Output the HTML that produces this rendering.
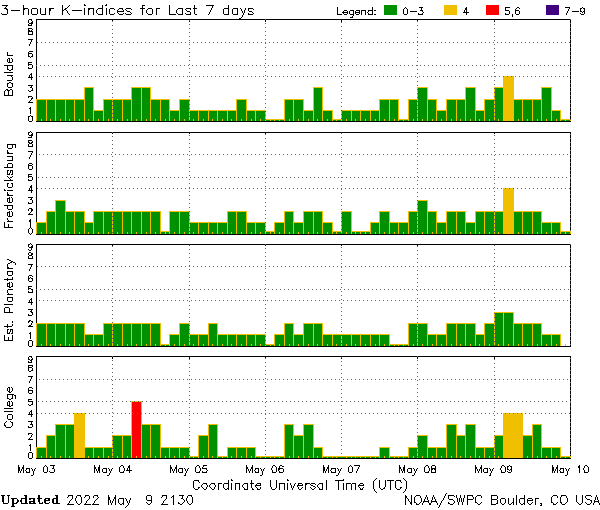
<!DOCTYPE html>
<html><head><meta charset="utf-8"><title>3-hour K-indices for Last 7 days</title>
<style>
html,body{margin:0;padding:0;background:#fff;}
svg{display:block;}
text{font-family:"Liberation Sans",sans-serif;fill:transparent;}
</style></head><body>
<svg xmlns="http://www.w3.org/2000/svg" width="600" height="510" viewBox="0 0 600 510">
<rect width="600" height="510" fill="#fff"/>
<g shape-rendering="crispEdges">
<!-- panel Boulder -->
<rect x="36" y="19" width="535" height="1" fill="#000"/>
<rect x="36" y="19" width="1" height="103" fill="#000"/>
<rect x="570" y="19" width="1" height="103" fill="#000"/>
<rect x="36" y="99" width="11" height="22" fill="#f0c000"/>
<rect x="37" y="100" width="9" height="21" fill="#009000"/>
<rect x="46" y="99" width="10" height="22" fill="#f0c000"/>
<rect x="47" y="100" width="8" height="21" fill="#009000"/>
<rect x="55" y="99" width="11" height="22" fill="#f0c000"/>
<rect x="56" y="100" width="9" height="21" fill="#009000"/>
<rect x="65" y="99" width="10" height="22" fill="#f0c000"/>
<rect x="66" y="100" width="8" height="21" fill="#009000"/>
<rect x="74" y="99" width="11" height="22" fill="#f0c000"/>
<rect x="75" y="100" width="9" height="21" fill="#009000"/>
<rect x="84" y="87" width="10" height="34" fill="#f0c000"/>
<rect x="85" y="88" width="8" height="33" fill="#009000"/>
<rect x="93" y="110" width="11" height="11" fill="#f0c000"/>
<rect x="94" y="111" width="9" height="10" fill="#009000"/>
<rect x="103" y="99" width="10" height="22" fill="#f0c000"/>
<rect x="104" y="100" width="8" height="21" fill="#009000"/>
<rect x="112" y="99" width="11" height="22" fill="#f0c000"/>
<rect x="113" y="100" width="9" height="21" fill="#009000"/>
<rect x="122" y="99" width="10" height="22" fill="#f0c000"/>
<rect x="123" y="100" width="8" height="21" fill="#009000"/>
<rect x="131" y="87" width="11" height="34" fill="#f0c000"/>
<rect x="132" y="88" width="9" height="33" fill="#009000"/>
<rect x="141" y="87" width="10" height="34" fill="#f0c000"/>
<rect x="142" y="88" width="8" height="33" fill="#009000"/>
<rect x="150" y="99" width="11" height="22" fill="#f0c000"/>
<rect x="151" y="100" width="9" height="21" fill="#009000"/>
<rect x="160" y="99" width="10" height="22" fill="#f0c000"/>
<rect x="161" y="100" width="8" height="21" fill="#009000"/>
<rect x="169" y="110" width="11" height="11" fill="#f0c000"/>
<rect x="170" y="111" width="9" height="10" fill="#009000"/>
<rect x="179" y="99" width="11" height="22" fill="#f0c000"/>
<rect x="180" y="100" width="9" height="21" fill="#009000"/>
<rect x="189" y="110" width="10" height="11" fill="#f0c000"/>
<rect x="190" y="111" width="8" height="10" fill="#009000"/>
<rect x="198" y="110" width="11" height="11" fill="#f0c000"/>
<rect x="199" y="111" width="9" height="10" fill="#009000"/>
<rect x="208" y="110" width="10" height="11" fill="#f0c000"/>
<rect x="209" y="111" width="8" height="10" fill="#009000"/>
<rect x="217" y="110" width="11" height="11" fill="#f0c000"/>
<rect x="218" y="111" width="9" height="10" fill="#009000"/>
<rect x="227" y="110" width="10" height="11" fill="#f0c000"/>
<rect x="228" y="111" width="8" height="10" fill="#009000"/>
<rect x="236" y="99" width="11" height="22" fill="#f0c000"/>
<rect x="237" y="100" width="9" height="21" fill="#009000"/>
<rect x="246" y="110" width="10" height="11" fill="#f0c000"/>
<rect x="247" y="111" width="8" height="10" fill="#009000"/>
<rect x="255" y="110" width="11" height="11" fill="#f0c000"/>
<rect x="256" y="111" width="9" height="10" fill="#009000"/>
<rect x="265" y="119" width="10" height="2" fill="#f0c000"/>
<rect x="266" y="120" width="8" height="1" fill="#009000"/>
<rect x="274" y="119" width="11" height="2" fill="#f0c000"/>
<rect x="275" y="120" width="9" height="1" fill="#009000"/>
<rect x="284" y="99" width="10" height="22" fill="#f0c000"/>
<rect x="285" y="100" width="8" height="21" fill="#009000"/>
<rect x="293" y="99" width="11" height="22" fill="#f0c000"/>
<rect x="294" y="100" width="9" height="21" fill="#009000"/>
<rect x="303" y="110" width="11" height="11" fill="#f0c000"/>
<rect x="304" y="111" width="9" height="10" fill="#009000"/>
<rect x="313" y="87" width="10" height="34" fill="#f0c000"/>
<rect x="314" y="88" width="8" height="33" fill="#009000"/>
<rect x="322" y="110" width="11" height="11" fill="#f0c000"/>
<rect x="323" y="111" width="9" height="10" fill="#009000"/>
<rect x="332" y="119" width="10" height="2" fill="#f0c000"/>
<rect x="333" y="120" width="8" height="1" fill="#009000"/>
<rect x="341" y="110" width="11" height="11" fill="#f0c000"/>
<rect x="342" y="111" width="9" height="10" fill="#009000"/>
<rect x="351" y="110" width="10" height="11" fill="#f0c000"/>
<rect x="352" y="111" width="8" height="10" fill="#009000"/>
<rect x="360" y="110" width="11" height="11" fill="#f0c000"/>
<rect x="361" y="111" width="9" height="10" fill="#009000"/>
<rect x="370" y="110" width="10" height="11" fill="#f0c000"/>
<rect x="371" y="111" width="8" height="10" fill="#009000"/>
<rect x="379" y="99" width="11" height="22" fill="#f0c000"/>
<rect x="380" y="100" width="9" height="21" fill="#009000"/>
<rect x="389" y="99" width="10" height="22" fill="#f0c000"/>
<rect x="390" y="100" width="8" height="21" fill="#009000"/>
<rect x="398" y="119" width="11" height="2" fill="#f0c000"/>
<rect x="399" y="120" width="9" height="1" fill="#009000"/>
<rect x="408" y="99" width="10" height="22" fill="#f0c000"/>
<rect x="409" y="100" width="8" height="21" fill="#009000"/>
<rect x="417" y="87" width="11" height="34" fill="#f0c000"/>
<rect x="418" y="88" width="9" height="33" fill="#009000"/>
<rect x="427" y="99" width="10" height="22" fill="#f0c000"/>
<rect x="428" y="100" width="8" height="21" fill="#009000"/>
<rect x="436" y="110" width="11" height="11" fill="#f0c000"/>
<rect x="437" y="111" width="9" height="10" fill="#009000"/>
<rect x="446" y="99" width="11" height="22" fill="#f0c000"/>
<rect x="447" y="100" width="9" height="21" fill="#009000"/>
<rect x="456" y="99" width="10" height="22" fill="#f0c000"/>
<rect x="457" y="100" width="8" height="21" fill="#009000"/>
<rect x="465" y="87" width="11" height="34" fill="#f0c000"/>
<rect x="466" y="88" width="9" height="33" fill="#009000"/>
<rect x="475" y="110" width="10" height="11" fill="#f0c000"/>
<rect x="476" y="111" width="8" height="10" fill="#009000"/>
<rect x="484" y="99" width="11" height="22" fill="#f0c000"/>
<rect x="485" y="100" width="9" height="21" fill="#009000"/>
<rect x="494" y="87" width="10" height="34" fill="#f0c000"/>
<rect x="495" y="88" width="8" height="33" fill="#009000"/>
<rect x="503" y="76" width="11" height="45" fill="#f0c000"/>
<rect x="504" y="77" width="9" height="44" fill="#f0c000"/>
<rect x="513" y="99" width="10" height="22" fill="#f0c000"/>
<rect x="514" y="100" width="8" height="21" fill="#009000"/>
<rect x="522" y="99" width="11" height="22" fill="#f0c000"/>
<rect x="523" y="100" width="9" height="21" fill="#009000"/>
<rect x="532" y="99" width="10" height="22" fill="#f0c000"/>
<rect x="533" y="100" width="8" height="21" fill="#009000"/>
<rect x="541" y="87" width="11" height="34" fill="#f0c000"/>
<rect x="542" y="88" width="9" height="33" fill="#009000"/>
<rect x="551" y="110" width="10" height="11" fill="#f0c000"/>
<rect x="552" y="111" width="8" height="10" fill="#009000"/>
<rect x="560" y="119" width="11" height="2" fill="#f0c000"/>
<rect x="561" y="120" width="9" height="1" fill="#009000"/>
<path d="M41 119h1v2h-1zM50 119h1v2h-1zM60 119h1v2h-1zM69 119h1v2h-1zM79 119h1v2h-1zM88 119h1v2h-1zM98 119h1v2h-1zM108 119h1v2h-1zM117 119h1v2h-1zM127 119h1v2h-1zM136 119h1v2h-1zM146 119h1v2h-1zM155 119h1v2h-1zM165 119h1v2h-1zM174 119h1v2h-1zM184 119h1v2h-1zM193 119h1v2h-1zM203 119h1v2h-1zM212 119h1v2h-1zM222 119h1v2h-1zM231 119h1v2h-1zM241 119h1v2h-1zM251 119h1v2h-1zM260 119h1v2h-1zM270 119h1v2h-1zM279 119h1v2h-1zM289 119h1v2h-1zM298 119h1v2h-1zM308 119h1v2h-1zM317 119h1v2h-1zM327 119h1v2h-1zM336 119h1v2h-1zM346 119h1v2h-1zM355 119h1v2h-1zM365 119h1v2h-1zM375 119h1v2h-1zM384 119h1v2h-1zM394 119h1v2h-1zM403 119h1v2h-1zM413 119h1v2h-1zM422 119h1v2h-1zM432 119h1v2h-1zM441 119h1v2h-1zM451 119h1v2h-1zM460 119h1v2h-1zM470 119h1v2h-1zM479 119h1v2h-1zM489 119h1v2h-1zM498 119h1v2h-1zM508 119h1v2h-1zM518 119h1v2h-1zM527 119h1v2h-1zM537 119h1v2h-1zM546 119h1v2h-1zM556 119h1v2h-1zM565 119h1v2h-1z" fill="#f0c000"/>
<rect x="36" y="121" width="535" height="1" fill="#000"/>
<path d="M112 20h1v2h-1zM189 20h1v2h-1zM265 20h1v2h-1zM341 20h1v2h-1zM417 20h1v2h-1zM494 20h1v2h-1z" fill="#000"/>
<path d="M37 42h1v1h-1zM41 42h1v1h-1zM45 42h1v1h-1zM49 42h1v1h-1zM53 42h1v1h-1zM57 42h1v1h-1zM61 42h1v1h-1zM65 42h1v1h-1zM69 42h1v1h-1zM73 42h1v1h-1zM77 42h1v1h-1zM81 42h1v1h-1zM85 42h1v1h-1zM89 42h1v1h-1zM93 42h1v1h-1zM97 42h1v1h-1zM101 42h1v1h-1zM105 42h1v1h-1zM109 42h1v1h-1zM113 42h1v1h-1zM117 42h1v1h-1zM121 42h1v1h-1zM125 42h1v1h-1zM129 42h1v1h-1zM133 42h1v1h-1zM137 42h1v1h-1zM141 42h1v1h-1zM145 42h1v1h-1zM149 42h1v1h-1zM153 42h1v1h-1zM157 42h1v1h-1zM161 42h1v1h-1zM165 42h1v1h-1zM169 42h1v1h-1zM173 42h1v1h-1zM177 42h1v1h-1zM181 42h1v1h-1zM185 42h1v1h-1zM189 42h1v1h-1zM193 42h1v1h-1zM197 42h1v1h-1zM201 42h1v1h-1zM205 42h1v1h-1zM209 42h1v1h-1zM213 42h1v1h-1zM217 42h1v1h-1zM221 42h1v1h-1zM225 42h1v1h-1zM229 42h1v1h-1zM233 42h1v1h-1zM237 42h1v1h-1zM241 42h1v1h-1zM245 42h1v1h-1zM249 42h1v1h-1zM253 42h1v1h-1zM257 42h1v1h-1zM261 42h1v1h-1zM265 42h1v1h-1zM269 42h1v1h-1zM273 42h1v1h-1zM277 42h1v1h-1zM281 42h1v1h-1zM285 42h1v1h-1zM289 42h1v1h-1zM293 42h1v1h-1zM297 42h1v1h-1zM301 42h1v1h-1zM305 42h1v1h-1zM309 42h1v1h-1zM313 42h1v1h-1zM317 42h1v1h-1zM321 42h1v1h-1zM325 42h1v1h-1zM329 42h1v1h-1zM333 42h1v1h-1zM337 42h1v1h-1zM341 42h1v1h-1zM345 42h1v1h-1zM349 42h1v1h-1zM353 42h1v1h-1zM357 42h1v1h-1zM361 42h1v1h-1zM365 42h1v1h-1zM369 42h1v1h-1zM373 42h1v1h-1zM377 42h1v1h-1zM381 42h1v1h-1zM385 42h1v1h-1zM389 42h1v1h-1zM393 42h1v1h-1zM397 42h1v1h-1zM401 42h1v1h-1zM405 42h1v1h-1zM409 42h1v1h-1zM413 42h1v1h-1zM417 42h1v1h-1zM421 42h1v1h-1zM425 42h1v1h-1zM429 42h1v1h-1zM433 42h1v1h-1zM437 42h1v1h-1zM441 42h1v1h-1zM445 42h1v1h-1zM449 42h1v1h-1zM453 42h1v1h-1zM457 42h1v1h-1zM461 42h1v1h-1zM465 42h1v1h-1zM469 42h1v1h-1zM473 42h1v1h-1zM477 42h1v1h-1zM481 42h1v1h-1zM485 42h1v1h-1zM489 42h1v1h-1zM493 42h1v1h-1zM497 42h1v1h-1zM501 42h1v1h-1zM505 42h1v1h-1zM509 42h1v1h-1zM513 42h1v1h-1zM517 42h1v1h-1zM521 42h1v1h-1zM525 42h1v1h-1zM529 42h1v1h-1zM533 42h1v1h-1zM537 42h1v1h-1zM541 42h1v1h-1zM545 42h1v1h-1zM549 42h1v1h-1zM553 42h1v1h-1zM557 42h1v1h-1zM561 42h1v1h-1zM565 42h1v1h-1zM569 42h1v1h-1zM36 65h1v1h-1zM40 65h1v1h-1zM44 65h1v1h-1zM48 65h1v1h-1zM52 65h1v1h-1zM56 65h1v1h-1zM60 65h1v1h-1zM64 65h1v1h-1zM68 65h1v1h-1zM72 65h1v1h-1zM76 65h1v1h-1zM80 65h1v1h-1zM84 65h1v1h-1zM88 65h1v1h-1zM92 65h1v1h-1zM96 65h1v1h-1zM100 65h1v1h-1zM104 65h1v1h-1zM108 65h1v1h-1zM112 65h1v1h-1zM116 65h1v1h-1zM120 65h1v1h-1zM124 65h1v1h-1zM128 65h1v1h-1zM132 65h1v1h-1zM136 65h1v1h-1zM140 65h1v1h-1zM144 65h1v1h-1zM148 65h1v1h-1zM152 65h1v1h-1zM156 65h1v1h-1zM160 65h1v1h-1zM164 65h1v1h-1zM168 65h1v1h-1zM172 65h1v1h-1zM176 65h1v1h-1zM180 65h1v1h-1zM184 65h1v1h-1zM188 65h1v1h-1zM192 65h1v1h-1zM196 65h1v1h-1zM200 65h1v1h-1zM204 65h1v1h-1zM208 65h1v1h-1zM212 65h1v1h-1zM216 65h1v1h-1zM220 65h1v1h-1zM224 65h1v1h-1zM228 65h1v1h-1zM232 65h1v1h-1zM236 65h1v1h-1zM240 65h1v1h-1zM244 65h1v1h-1zM248 65h1v1h-1zM252 65h1v1h-1zM256 65h1v1h-1zM260 65h1v1h-1zM264 65h1v1h-1zM268 65h1v1h-1zM272 65h1v1h-1zM276 65h1v1h-1zM280 65h1v1h-1zM284 65h1v1h-1zM288 65h1v1h-1zM292 65h1v1h-1zM296 65h1v1h-1zM300 65h1v1h-1zM304 65h1v1h-1zM308 65h1v1h-1zM312 65h1v1h-1zM316 65h1v1h-1zM320 65h1v1h-1zM324 65h1v1h-1zM328 65h1v1h-1zM332 65h1v1h-1zM336 65h1v1h-1zM340 65h1v1h-1zM344 65h1v1h-1zM348 65h1v1h-1zM352 65h1v1h-1zM356 65h1v1h-1zM360 65h1v1h-1zM364 65h1v1h-1zM368 65h1v1h-1zM372 65h1v1h-1zM376 65h1v1h-1zM380 65h1v1h-1zM384 65h1v1h-1zM388 65h1v1h-1zM392 65h1v1h-1zM396 65h1v1h-1zM400 65h1v1h-1zM404 65h1v1h-1zM408 65h1v1h-1zM412 65h1v1h-1zM416 65h1v1h-1zM420 65h1v1h-1zM424 65h1v1h-1zM428 65h1v1h-1zM432 65h1v1h-1zM436 65h1v1h-1zM440 65h1v1h-1zM444 65h1v1h-1zM448 65h1v1h-1zM452 65h1v1h-1zM456 65h1v1h-1zM460 65h1v1h-1zM464 65h1v1h-1zM468 65h1v1h-1zM472 65h1v1h-1zM476 65h1v1h-1zM480 65h1v1h-1zM484 65h1v1h-1zM488 65h1v1h-1zM492 65h1v1h-1zM496 65h1v1h-1zM500 65h1v1h-1zM504 65h1v1h-1zM508 65h1v1h-1zM512 65h1v1h-1zM516 65h1v1h-1zM520 65h1v1h-1zM524 65h1v1h-1zM528 65h1v1h-1zM532 65h1v1h-1zM536 65h1v1h-1zM540 65h1v1h-1zM544 65h1v1h-1zM548 65h1v1h-1zM552 65h1v1h-1zM556 65h1v1h-1zM560 65h1v1h-1zM564 65h1v1h-1zM568 65h1v1h-1zM39 76h1v1h-1zM43 76h1v1h-1zM47 76h1v1h-1zM51 76h1v1h-1zM55 76h1v1h-1zM59 76h1v1h-1zM63 76h1v1h-1zM67 76h1v1h-1zM71 76h1v1h-1zM75 76h1v1h-1zM79 76h1v1h-1zM83 76h1v1h-1zM87 76h1v1h-1zM91 76h1v1h-1zM95 76h1v1h-1zM99 76h1v1h-1zM103 76h1v1h-1zM107 76h1v1h-1zM111 76h1v1h-1zM115 76h1v1h-1zM119 76h1v1h-1zM123 76h1v1h-1zM127 76h1v1h-1zM131 76h1v1h-1zM135 76h1v1h-1zM139 76h1v1h-1zM143 76h1v1h-1zM147 76h1v1h-1zM151 76h1v1h-1zM155 76h1v1h-1zM159 76h1v1h-1zM163 76h1v1h-1zM167 76h1v1h-1zM171 76h1v1h-1zM175 76h1v1h-1zM179 76h1v1h-1zM183 76h1v1h-1zM187 76h1v1h-1zM191 76h1v1h-1zM195 76h1v1h-1zM199 76h1v1h-1zM203 76h1v1h-1zM207 76h1v1h-1zM211 76h1v1h-1zM215 76h1v1h-1zM219 76h1v1h-1zM223 76h1v1h-1zM227 76h1v1h-1zM231 76h1v1h-1zM235 76h1v1h-1zM239 76h1v1h-1zM243 76h1v1h-1zM247 76h1v1h-1zM251 76h1v1h-1zM255 76h1v1h-1zM259 76h1v1h-1zM263 76h1v1h-1zM267 76h1v1h-1zM271 76h1v1h-1zM275 76h1v1h-1zM279 76h1v1h-1zM283 76h1v1h-1zM287 76h1v1h-1zM291 76h1v1h-1zM295 76h1v1h-1zM299 76h1v1h-1zM303 76h1v1h-1zM307 76h1v1h-1zM311 76h1v1h-1zM315 76h1v1h-1zM319 76h1v1h-1zM323 76h1v1h-1zM327 76h1v1h-1zM331 76h1v1h-1zM335 76h1v1h-1zM339 76h1v1h-1zM343 76h1v1h-1zM347 76h1v1h-1zM351 76h1v1h-1zM355 76h1v1h-1zM359 76h1v1h-1zM363 76h1v1h-1zM367 76h1v1h-1zM371 76h1v1h-1zM375 76h1v1h-1zM379 76h1v1h-1zM383 76h1v1h-1zM387 76h1v1h-1zM391 76h1v1h-1zM395 76h1v1h-1zM399 76h1v1h-1zM403 76h1v1h-1zM407 76h1v1h-1zM411 76h1v1h-1zM415 76h1v1h-1zM419 76h1v1h-1zM423 76h1v1h-1zM427 76h1v1h-1zM431 76h1v1h-1zM435 76h1v1h-1zM439 76h1v1h-1zM443 76h1v1h-1zM447 76h1v1h-1zM451 76h1v1h-1zM455 76h1v1h-1zM459 76h1v1h-1zM463 76h1v1h-1zM467 76h1v1h-1zM471 76h1v1h-1zM475 76h1v1h-1zM479 76h1v1h-1zM483 76h1v1h-1zM487 76h1v1h-1zM491 76h1v1h-1zM495 76h1v1h-1zM499 76h1v1h-1zM503 76h1v1h-1zM507 76h1v1h-1zM511 76h1v1h-1zM515 76h1v1h-1zM519 76h1v1h-1zM523 76h1v1h-1zM527 76h1v1h-1zM531 76h1v1h-1zM535 76h1v1h-1zM539 76h1v1h-1zM543 76h1v1h-1zM547 76h1v1h-1zM551 76h1v1h-1zM555 76h1v1h-1zM559 76h1v1h-1zM563 76h1v1h-1zM567 76h1v1h-1zM112 21h1v1h-1zM112 25h1v1h-1zM112 29h1v1h-1zM112 33h1v1h-1zM112 37h1v1h-1zM112 41h1v1h-1zM112 45h1v1h-1zM112 49h1v1h-1zM112 53h1v1h-1zM112 57h1v1h-1zM112 61h1v1h-1zM112 65h1v1h-1zM112 69h1v1h-1zM112 73h1v1h-1zM112 77h1v1h-1zM112 81h1v1h-1zM112 85h1v1h-1zM112 89h1v1h-1zM112 93h1v1h-1zM112 97h1v1h-1zM112 101h1v1h-1zM112 105h1v1h-1zM112 109h1v1h-1zM112 113h1v1h-1zM112 117h1v1h-1zM189 20h1v1h-1zM189 24h1v1h-1zM189 28h1v1h-1zM189 32h1v1h-1zM189 36h1v1h-1zM189 40h1v1h-1zM189 44h1v1h-1zM189 48h1v1h-1zM189 52h1v1h-1zM189 56h1v1h-1zM189 60h1v1h-1zM189 64h1v1h-1zM189 68h1v1h-1zM189 72h1v1h-1zM189 76h1v1h-1zM189 80h1v1h-1zM189 84h1v1h-1zM189 88h1v1h-1zM189 92h1v1h-1zM189 96h1v1h-1zM189 100h1v1h-1zM189 104h1v1h-1zM189 108h1v1h-1zM189 112h1v1h-1zM189 116h1v1h-1zM189 120h1v1h-1zM265 19h1v1h-1zM265 23h1v1h-1zM265 27h1v1h-1zM265 31h1v1h-1zM265 35h1v1h-1zM265 39h1v1h-1zM265 43h1v1h-1zM265 47h1v1h-1zM265 51h1v1h-1zM265 55h1v1h-1zM265 59h1v1h-1zM265 63h1v1h-1zM265 67h1v1h-1zM265 71h1v1h-1zM265 75h1v1h-1zM265 79h1v1h-1zM265 83h1v1h-1zM265 87h1v1h-1zM265 91h1v1h-1zM265 95h1v1h-1zM265 99h1v1h-1zM265 103h1v1h-1zM265 107h1v1h-1zM265 111h1v1h-1zM265 115h1v1h-1zM265 119h1v1h-1zM341 22h1v1h-1zM341 26h1v1h-1zM341 30h1v1h-1zM341 34h1v1h-1zM341 38h1v1h-1zM341 42h1v1h-1zM341 46h1v1h-1zM341 50h1v1h-1zM341 54h1v1h-1zM341 58h1v1h-1zM341 62h1v1h-1zM341 66h1v1h-1zM341 70h1v1h-1zM341 74h1v1h-1zM341 78h1v1h-1zM341 82h1v1h-1zM341 86h1v1h-1zM341 90h1v1h-1zM341 94h1v1h-1zM341 98h1v1h-1zM341 102h1v1h-1zM341 106h1v1h-1zM341 110h1v1h-1zM341 114h1v1h-1zM341 118h1v1h-1zM417 21h1v1h-1zM417 25h1v1h-1zM417 29h1v1h-1zM417 33h1v1h-1zM417 37h1v1h-1zM417 41h1v1h-1zM417 45h1v1h-1zM417 49h1v1h-1zM417 53h1v1h-1zM417 57h1v1h-1zM417 61h1v1h-1zM417 65h1v1h-1zM417 69h1v1h-1zM417 73h1v1h-1zM417 77h1v1h-1zM417 81h1v1h-1zM417 85h1v1h-1zM417 89h1v1h-1zM417 93h1v1h-1zM417 97h1v1h-1zM417 101h1v1h-1zM417 105h1v1h-1zM417 109h1v1h-1zM417 113h1v1h-1zM417 117h1v1h-1zM494 20h1v1h-1zM494 24h1v1h-1zM494 28h1v1h-1zM494 32h1v1h-1zM494 36h1v1h-1zM494 40h1v1h-1zM494 44h1v1h-1zM494 48h1v1h-1zM494 52h1v1h-1zM494 56h1v1h-1zM494 60h1v1h-1zM494 64h1v1h-1zM494 68h1v1h-1zM494 72h1v1h-1zM494 76h1v1h-1zM494 80h1v1h-1zM494 84h1v1h-1zM494 88h1v1h-1zM494 92h1v1h-1zM494 96h1v1h-1zM494 100h1v1h-1zM494 104h1v1h-1zM494 108h1v1h-1zM494 112h1v1h-1zM494 116h1v1h-1zM494 120h1v1h-1zM570 19h1v1h-1zM570 23h1v1h-1zM570 27h1v1h-1zM570 31h1v1h-1zM570 35h1v1h-1zM570 39h1v1h-1zM570 43h1v1h-1zM570 47h1v1h-1zM570 51h1v1h-1zM570 55h1v1h-1zM570 59h1v1h-1zM570 63h1v1h-1zM570 67h1v1h-1zM570 71h1v1h-1zM570 75h1v1h-1zM570 79h1v1h-1zM570 83h1v1h-1zM570 87h1v1h-1zM570 91h1v1h-1zM570 95h1v1h-1zM570 99h1v1h-1zM570 103h1v1h-1zM570 107h1v1h-1zM570 111h1v1h-1zM570 115h1v1h-1zM570 119h1v1h-1z" fill="#646464"/>
<!-- panel Fredericksburg -->
<rect x="36" y="132" width="535" height="1" fill="#000"/>
<rect x="36" y="132" width="1" height="103" fill="#000"/>
<rect x="570" y="132" width="1" height="103" fill="#000"/>
<rect x="36" y="222" width="11" height="12" fill="#f0c000"/>
<rect x="37" y="223" width="9" height="11" fill="#009000"/>
<rect x="46" y="211" width="10" height="23" fill="#f0c000"/>
<rect x="47" y="212" width="8" height="22" fill="#009000"/>
<rect x="55" y="200" width="11" height="34" fill="#f0c000"/>
<rect x="56" y="201" width="9" height="33" fill="#009000"/>
<rect x="65" y="211" width="10" height="23" fill="#f0c000"/>
<rect x="66" y="212" width="8" height="22" fill="#009000"/>
<rect x="74" y="211" width="11" height="23" fill="#f0c000"/>
<rect x="75" y="212" width="9" height="22" fill="#009000"/>
<rect x="84" y="222" width="10" height="12" fill="#f0c000"/>
<rect x="85" y="223" width="8" height="11" fill="#009000"/>
<rect x="93" y="211" width="11" height="23" fill="#f0c000"/>
<rect x="94" y="212" width="9" height="22" fill="#009000"/>
<rect x="103" y="211" width="10" height="23" fill="#f0c000"/>
<rect x="104" y="212" width="8" height="22" fill="#009000"/>
<rect x="112" y="211" width="11" height="23" fill="#f0c000"/>
<rect x="113" y="212" width="9" height="22" fill="#009000"/>
<rect x="122" y="211" width="10" height="23" fill="#f0c000"/>
<rect x="123" y="212" width="8" height="22" fill="#009000"/>
<rect x="131" y="211" width="11" height="23" fill="#f0c000"/>
<rect x="132" y="212" width="9" height="22" fill="#009000"/>
<rect x="141" y="211" width="10" height="23" fill="#f0c000"/>
<rect x="142" y="212" width="8" height="22" fill="#009000"/>
<rect x="150" y="211" width="11" height="23" fill="#f0c000"/>
<rect x="151" y="212" width="9" height="22" fill="#009000"/>
<rect x="160" y="231" width="10" height="3" fill="#f0c000"/>
<rect x="161" y="232" width="8" height="2" fill="#009000"/>
<rect x="169" y="211" width="11" height="23" fill="#f0c000"/>
<rect x="170" y="212" width="9" height="22" fill="#009000"/>
<rect x="179" y="211" width="11" height="23" fill="#f0c000"/>
<rect x="180" y="212" width="9" height="22" fill="#009000"/>
<rect x="189" y="222" width="10" height="12" fill="#f0c000"/>
<rect x="190" y="223" width="8" height="11" fill="#009000"/>
<rect x="198" y="222" width="11" height="12" fill="#f0c000"/>
<rect x="199" y="223" width="9" height="11" fill="#009000"/>
<rect x="208" y="222" width="10" height="12" fill="#f0c000"/>
<rect x="209" y="223" width="8" height="11" fill="#009000"/>
<rect x="217" y="222" width="11" height="12" fill="#f0c000"/>
<rect x="218" y="223" width="9" height="11" fill="#009000"/>
<rect x="227" y="211" width="10" height="23" fill="#f0c000"/>
<rect x="228" y="212" width="8" height="22" fill="#009000"/>
<rect x="236" y="211" width="11" height="23" fill="#f0c000"/>
<rect x="237" y="212" width="9" height="22" fill="#009000"/>
<rect x="246" y="222" width="10" height="12" fill="#f0c000"/>
<rect x="247" y="223" width="8" height="11" fill="#009000"/>
<rect x="255" y="222" width="11" height="12" fill="#f0c000"/>
<rect x="256" y="223" width="9" height="11" fill="#009000"/>
<rect x="265" y="231" width="10" height="3" fill="#f0c000"/>
<rect x="266" y="232" width="8" height="2" fill="#009000"/>
<rect x="274" y="222" width="11" height="12" fill="#f0c000"/>
<rect x="275" y="223" width="9" height="11" fill="#009000"/>
<rect x="284" y="211" width="10" height="23" fill="#f0c000"/>
<rect x="285" y="212" width="8" height="22" fill="#009000"/>
<rect x="293" y="222" width="11" height="12" fill="#f0c000"/>
<rect x="294" y="223" width="9" height="11" fill="#009000"/>
<rect x="303" y="211" width="11" height="23" fill="#f0c000"/>
<rect x="304" y="212" width="9" height="22" fill="#009000"/>
<rect x="313" y="211" width="10" height="23" fill="#f0c000"/>
<rect x="314" y="212" width="8" height="22" fill="#009000"/>
<rect x="322" y="222" width="11" height="12" fill="#f0c000"/>
<rect x="323" y="223" width="9" height="11" fill="#009000"/>
<rect x="332" y="231" width="10" height="3" fill="#f0c000"/>
<rect x="333" y="232" width="8" height="2" fill="#009000"/>
<rect x="341" y="211" width="11" height="23" fill="#f0c000"/>
<rect x="342" y="212" width="9" height="22" fill="#009000"/>
<rect x="351" y="231" width="10" height="3" fill="#f0c000"/>
<rect x="352" y="232" width="8" height="2" fill="#009000"/>
<rect x="360" y="231" width="11" height="3" fill="#f0c000"/>
<rect x="361" y="232" width="9" height="2" fill="#009000"/>
<rect x="370" y="222" width="10" height="12" fill="#f0c000"/>
<rect x="371" y="223" width="8" height="11" fill="#009000"/>
<rect x="379" y="211" width="11" height="23" fill="#f0c000"/>
<rect x="380" y="212" width="9" height="22" fill="#009000"/>
<rect x="389" y="222" width="10" height="12" fill="#f0c000"/>
<rect x="390" y="223" width="8" height="11" fill="#009000"/>
<rect x="398" y="222" width="11" height="12" fill="#f0c000"/>
<rect x="399" y="223" width="9" height="11" fill="#009000"/>
<rect x="408" y="211" width="10" height="23" fill="#f0c000"/>
<rect x="409" y="212" width="8" height="22" fill="#009000"/>
<rect x="417" y="200" width="11" height="34" fill="#f0c000"/>
<rect x="418" y="201" width="9" height="33" fill="#009000"/>
<rect x="427" y="211" width="10" height="23" fill="#f0c000"/>
<rect x="428" y="212" width="8" height="22" fill="#009000"/>
<rect x="436" y="222" width="11" height="12" fill="#f0c000"/>
<rect x="437" y="223" width="9" height="11" fill="#009000"/>
<rect x="446" y="211" width="11" height="23" fill="#f0c000"/>
<rect x="447" y="212" width="9" height="22" fill="#009000"/>
<rect x="456" y="211" width="10" height="23" fill="#f0c000"/>
<rect x="457" y="212" width="8" height="22" fill="#009000"/>
<rect x="465" y="222" width="11" height="12" fill="#f0c000"/>
<rect x="466" y="223" width="9" height="11" fill="#009000"/>
<rect x="475" y="211" width="10" height="23" fill="#f0c000"/>
<rect x="476" y="212" width="8" height="22" fill="#009000"/>
<rect x="484" y="211" width="11" height="23" fill="#f0c000"/>
<rect x="485" y="212" width="9" height="22" fill="#009000"/>
<rect x="494" y="211" width="10" height="23" fill="#f0c000"/>
<rect x="495" y="212" width="8" height="22" fill="#009000"/>
<rect x="503" y="188" width="11" height="46" fill="#f0c000"/>
<rect x="504" y="189" width="9" height="45" fill="#f0c000"/>
<rect x="513" y="211" width="10" height="23" fill="#f0c000"/>
<rect x="514" y="212" width="8" height="22" fill="#009000"/>
<rect x="522" y="211" width="11" height="23" fill="#f0c000"/>
<rect x="523" y="212" width="9" height="22" fill="#009000"/>
<rect x="532" y="211" width="10" height="23" fill="#f0c000"/>
<rect x="533" y="212" width="8" height="22" fill="#009000"/>
<rect x="541" y="222" width="11" height="12" fill="#f0c000"/>
<rect x="542" y="223" width="9" height="11" fill="#009000"/>
<rect x="551" y="222" width="10" height="12" fill="#f0c000"/>
<rect x="552" y="223" width="8" height="11" fill="#009000"/>
<rect x="560" y="231" width="11" height="3" fill="#f0c000"/>
<rect x="561" y="232" width="9" height="2" fill="#009000"/>
<path d="M41 232h1v2h-1zM50 232h1v2h-1zM60 232h1v2h-1zM69 232h1v2h-1zM79 232h1v2h-1zM88 232h1v2h-1zM98 232h1v2h-1zM108 232h1v2h-1zM117 232h1v2h-1zM127 232h1v2h-1zM136 232h1v2h-1zM146 232h1v2h-1zM155 232h1v2h-1zM165 232h1v2h-1zM174 232h1v2h-1zM184 232h1v2h-1zM193 232h1v2h-1zM203 232h1v2h-1zM212 232h1v2h-1zM222 232h1v2h-1zM231 232h1v2h-1zM241 232h1v2h-1zM251 232h1v2h-1zM260 232h1v2h-1zM270 232h1v2h-1zM279 232h1v2h-1zM289 232h1v2h-1zM298 232h1v2h-1zM308 232h1v2h-1zM317 232h1v2h-1zM327 232h1v2h-1zM336 232h1v2h-1zM346 232h1v2h-1zM355 232h1v2h-1zM365 232h1v2h-1zM375 232h1v2h-1zM384 232h1v2h-1zM394 232h1v2h-1zM403 232h1v2h-1zM413 232h1v2h-1zM422 232h1v2h-1zM432 232h1v2h-1zM441 232h1v2h-1zM451 232h1v2h-1zM460 232h1v2h-1zM470 232h1v2h-1zM479 232h1v2h-1zM489 232h1v2h-1zM498 232h1v2h-1zM508 232h1v2h-1zM518 232h1v2h-1zM527 232h1v2h-1zM537 232h1v2h-1zM546 232h1v2h-1zM556 232h1v2h-1zM565 232h1v2h-1z" fill="#f0c000"/>
<rect x="36" y="234" width="535" height="1" fill="#000"/>
<path d="M112 133h1v1h-1zM189 133h1v1h-1zM265 133h1v1h-1zM341 133h1v1h-1zM417 133h1v1h-1zM494 133h1v1h-1z" fill="#000"/>
<path d="M39 154h1v1h-1zM43 154h1v1h-1zM47 154h1v1h-1zM51 154h1v1h-1zM55 154h1v1h-1zM59 154h1v1h-1zM63 154h1v1h-1zM67 154h1v1h-1zM71 154h1v1h-1zM75 154h1v1h-1zM79 154h1v1h-1zM83 154h1v1h-1zM87 154h1v1h-1zM91 154h1v1h-1zM95 154h1v1h-1zM99 154h1v1h-1zM103 154h1v1h-1zM107 154h1v1h-1zM111 154h1v1h-1zM115 154h1v1h-1zM119 154h1v1h-1zM123 154h1v1h-1zM127 154h1v1h-1zM131 154h1v1h-1zM135 154h1v1h-1zM139 154h1v1h-1zM143 154h1v1h-1zM147 154h1v1h-1zM151 154h1v1h-1zM155 154h1v1h-1zM159 154h1v1h-1zM163 154h1v1h-1zM167 154h1v1h-1zM171 154h1v1h-1zM175 154h1v1h-1zM179 154h1v1h-1zM183 154h1v1h-1zM187 154h1v1h-1zM191 154h1v1h-1zM195 154h1v1h-1zM199 154h1v1h-1zM203 154h1v1h-1zM207 154h1v1h-1zM211 154h1v1h-1zM215 154h1v1h-1zM219 154h1v1h-1zM223 154h1v1h-1zM227 154h1v1h-1zM231 154h1v1h-1zM235 154h1v1h-1zM239 154h1v1h-1zM243 154h1v1h-1zM247 154h1v1h-1zM251 154h1v1h-1zM255 154h1v1h-1zM259 154h1v1h-1zM263 154h1v1h-1zM267 154h1v1h-1zM271 154h1v1h-1zM275 154h1v1h-1zM279 154h1v1h-1zM283 154h1v1h-1zM287 154h1v1h-1zM291 154h1v1h-1zM295 154h1v1h-1zM299 154h1v1h-1zM303 154h1v1h-1zM307 154h1v1h-1zM311 154h1v1h-1zM315 154h1v1h-1zM319 154h1v1h-1zM323 154h1v1h-1zM327 154h1v1h-1zM331 154h1v1h-1zM335 154h1v1h-1zM339 154h1v1h-1zM343 154h1v1h-1zM347 154h1v1h-1zM351 154h1v1h-1zM355 154h1v1h-1zM359 154h1v1h-1zM363 154h1v1h-1zM367 154h1v1h-1zM371 154h1v1h-1zM375 154h1v1h-1zM379 154h1v1h-1zM383 154h1v1h-1zM387 154h1v1h-1zM391 154h1v1h-1zM395 154h1v1h-1zM399 154h1v1h-1zM403 154h1v1h-1zM407 154h1v1h-1zM411 154h1v1h-1zM415 154h1v1h-1zM419 154h1v1h-1zM423 154h1v1h-1zM427 154h1v1h-1zM431 154h1v1h-1zM435 154h1v1h-1zM439 154h1v1h-1zM443 154h1v1h-1zM447 154h1v1h-1zM451 154h1v1h-1zM455 154h1v1h-1zM459 154h1v1h-1zM463 154h1v1h-1zM467 154h1v1h-1zM471 154h1v1h-1zM475 154h1v1h-1zM479 154h1v1h-1zM483 154h1v1h-1zM487 154h1v1h-1zM491 154h1v1h-1zM495 154h1v1h-1zM499 154h1v1h-1zM503 154h1v1h-1zM507 154h1v1h-1zM511 154h1v1h-1zM515 154h1v1h-1zM519 154h1v1h-1zM523 154h1v1h-1zM527 154h1v1h-1zM531 154h1v1h-1zM535 154h1v1h-1zM539 154h1v1h-1zM543 154h1v1h-1zM547 154h1v1h-1zM551 154h1v1h-1zM555 154h1v1h-1zM559 154h1v1h-1zM563 154h1v1h-1zM567 154h1v1h-1zM38 177h1v1h-1zM42 177h1v1h-1zM46 177h1v1h-1zM50 177h1v1h-1zM54 177h1v1h-1zM58 177h1v1h-1zM62 177h1v1h-1zM66 177h1v1h-1zM70 177h1v1h-1zM74 177h1v1h-1zM78 177h1v1h-1zM82 177h1v1h-1zM86 177h1v1h-1zM90 177h1v1h-1zM94 177h1v1h-1zM98 177h1v1h-1zM102 177h1v1h-1zM106 177h1v1h-1zM110 177h1v1h-1zM114 177h1v1h-1zM118 177h1v1h-1zM122 177h1v1h-1zM126 177h1v1h-1zM130 177h1v1h-1zM134 177h1v1h-1zM138 177h1v1h-1zM142 177h1v1h-1zM146 177h1v1h-1zM150 177h1v1h-1zM154 177h1v1h-1zM158 177h1v1h-1zM162 177h1v1h-1zM166 177h1v1h-1zM170 177h1v1h-1zM174 177h1v1h-1zM178 177h1v1h-1zM182 177h1v1h-1zM186 177h1v1h-1zM190 177h1v1h-1zM194 177h1v1h-1zM198 177h1v1h-1zM202 177h1v1h-1zM206 177h1v1h-1zM210 177h1v1h-1zM214 177h1v1h-1zM218 177h1v1h-1zM222 177h1v1h-1zM226 177h1v1h-1zM230 177h1v1h-1zM234 177h1v1h-1zM238 177h1v1h-1zM242 177h1v1h-1zM246 177h1v1h-1zM250 177h1v1h-1zM254 177h1v1h-1zM258 177h1v1h-1zM262 177h1v1h-1zM266 177h1v1h-1zM270 177h1v1h-1zM274 177h1v1h-1zM278 177h1v1h-1zM282 177h1v1h-1zM286 177h1v1h-1zM290 177h1v1h-1zM294 177h1v1h-1zM298 177h1v1h-1zM302 177h1v1h-1zM306 177h1v1h-1zM310 177h1v1h-1zM314 177h1v1h-1zM318 177h1v1h-1zM322 177h1v1h-1zM326 177h1v1h-1zM330 177h1v1h-1zM334 177h1v1h-1zM338 177h1v1h-1zM342 177h1v1h-1zM346 177h1v1h-1zM350 177h1v1h-1zM354 177h1v1h-1zM358 177h1v1h-1zM362 177h1v1h-1zM366 177h1v1h-1zM370 177h1v1h-1zM374 177h1v1h-1zM378 177h1v1h-1zM382 177h1v1h-1zM386 177h1v1h-1zM390 177h1v1h-1zM394 177h1v1h-1zM398 177h1v1h-1zM402 177h1v1h-1zM406 177h1v1h-1zM410 177h1v1h-1zM414 177h1v1h-1zM418 177h1v1h-1zM422 177h1v1h-1zM426 177h1v1h-1zM430 177h1v1h-1zM434 177h1v1h-1zM438 177h1v1h-1zM442 177h1v1h-1zM446 177h1v1h-1zM450 177h1v1h-1zM454 177h1v1h-1zM458 177h1v1h-1zM462 177h1v1h-1zM466 177h1v1h-1zM470 177h1v1h-1zM474 177h1v1h-1zM478 177h1v1h-1zM482 177h1v1h-1zM486 177h1v1h-1zM490 177h1v1h-1zM494 177h1v1h-1zM498 177h1v1h-1zM502 177h1v1h-1zM506 177h1v1h-1zM510 177h1v1h-1zM514 177h1v1h-1zM518 177h1v1h-1zM522 177h1v1h-1zM526 177h1v1h-1zM530 177h1v1h-1zM534 177h1v1h-1zM538 177h1v1h-1zM542 177h1v1h-1zM546 177h1v1h-1zM550 177h1v1h-1zM554 177h1v1h-1zM558 177h1v1h-1zM562 177h1v1h-1zM566 177h1v1h-1zM570 177h1v1h-1zM37 188h1v1h-1zM41 188h1v1h-1zM45 188h1v1h-1zM49 188h1v1h-1zM53 188h1v1h-1zM57 188h1v1h-1zM61 188h1v1h-1zM65 188h1v1h-1zM69 188h1v1h-1zM73 188h1v1h-1zM77 188h1v1h-1zM81 188h1v1h-1zM85 188h1v1h-1zM89 188h1v1h-1zM93 188h1v1h-1zM97 188h1v1h-1zM101 188h1v1h-1zM105 188h1v1h-1zM109 188h1v1h-1zM113 188h1v1h-1zM117 188h1v1h-1zM121 188h1v1h-1zM125 188h1v1h-1zM129 188h1v1h-1zM133 188h1v1h-1zM137 188h1v1h-1zM141 188h1v1h-1zM145 188h1v1h-1zM149 188h1v1h-1zM153 188h1v1h-1zM157 188h1v1h-1zM161 188h1v1h-1zM165 188h1v1h-1zM169 188h1v1h-1zM173 188h1v1h-1zM177 188h1v1h-1zM181 188h1v1h-1zM185 188h1v1h-1zM189 188h1v1h-1zM193 188h1v1h-1zM197 188h1v1h-1zM201 188h1v1h-1zM205 188h1v1h-1zM209 188h1v1h-1zM213 188h1v1h-1zM217 188h1v1h-1zM221 188h1v1h-1zM225 188h1v1h-1zM229 188h1v1h-1zM233 188h1v1h-1zM237 188h1v1h-1zM241 188h1v1h-1zM245 188h1v1h-1zM249 188h1v1h-1zM253 188h1v1h-1zM257 188h1v1h-1zM261 188h1v1h-1zM265 188h1v1h-1zM269 188h1v1h-1zM273 188h1v1h-1zM277 188h1v1h-1zM281 188h1v1h-1zM285 188h1v1h-1zM289 188h1v1h-1zM293 188h1v1h-1zM297 188h1v1h-1zM301 188h1v1h-1zM305 188h1v1h-1zM309 188h1v1h-1zM313 188h1v1h-1zM317 188h1v1h-1zM321 188h1v1h-1zM325 188h1v1h-1zM329 188h1v1h-1zM333 188h1v1h-1zM337 188h1v1h-1zM341 188h1v1h-1zM345 188h1v1h-1zM349 188h1v1h-1zM353 188h1v1h-1zM357 188h1v1h-1zM361 188h1v1h-1zM365 188h1v1h-1zM369 188h1v1h-1zM373 188h1v1h-1zM377 188h1v1h-1zM381 188h1v1h-1zM385 188h1v1h-1zM389 188h1v1h-1zM393 188h1v1h-1zM397 188h1v1h-1zM401 188h1v1h-1zM405 188h1v1h-1zM409 188h1v1h-1zM413 188h1v1h-1zM417 188h1v1h-1zM421 188h1v1h-1zM425 188h1v1h-1zM429 188h1v1h-1zM433 188h1v1h-1zM437 188h1v1h-1zM441 188h1v1h-1zM445 188h1v1h-1zM449 188h1v1h-1zM453 188h1v1h-1zM457 188h1v1h-1zM461 188h1v1h-1zM465 188h1v1h-1zM469 188h1v1h-1zM473 188h1v1h-1zM477 188h1v1h-1zM481 188h1v1h-1zM485 188h1v1h-1zM489 188h1v1h-1zM493 188h1v1h-1zM497 188h1v1h-1zM501 188h1v1h-1zM505 188h1v1h-1zM509 188h1v1h-1zM513 188h1v1h-1zM517 188h1v1h-1zM521 188h1v1h-1zM525 188h1v1h-1zM529 188h1v1h-1zM533 188h1v1h-1zM537 188h1v1h-1zM541 188h1v1h-1zM545 188h1v1h-1zM549 188h1v1h-1zM553 188h1v1h-1zM557 188h1v1h-1zM561 188h1v1h-1zM565 188h1v1h-1zM569 188h1v1h-1zM112 132h1v1h-1zM112 136h1v1h-1zM112 140h1v1h-1zM112 144h1v1h-1zM112 148h1v1h-1zM112 152h1v1h-1zM112 156h1v1h-1zM112 160h1v1h-1zM112 164h1v1h-1zM112 168h1v1h-1zM112 172h1v1h-1zM112 176h1v1h-1zM112 180h1v1h-1zM112 184h1v1h-1zM112 188h1v1h-1zM112 192h1v1h-1zM112 196h1v1h-1zM112 200h1v1h-1zM112 204h1v1h-1zM112 208h1v1h-1zM112 212h1v1h-1zM112 216h1v1h-1zM112 220h1v1h-1zM112 224h1v1h-1zM112 228h1v1h-1zM112 232h1v1h-1zM189 135h1v1h-1zM189 139h1v1h-1zM189 143h1v1h-1zM189 147h1v1h-1zM189 151h1v1h-1zM189 155h1v1h-1zM189 159h1v1h-1zM189 163h1v1h-1zM189 167h1v1h-1zM189 171h1v1h-1zM189 175h1v1h-1zM189 179h1v1h-1zM189 183h1v1h-1zM189 187h1v1h-1zM189 191h1v1h-1zM189 195h1v1h-1zM189 199h1v1h-1zM189 203h1v1h-1zM189 207h1v1h-1zM189 211h1v1h-1zM189 215h1v1h-1zM189 219h1v1h-1zM189 223h1v1h-1zM189 227h1v1h-1zM189 231h1v1h-1zM265 134h1v1h-1zM265 138h1v1h-1zM265 142h1v1h-1zM265 146h1v1h-1zM265 150h1v1h-1zM265 154h1v1h-1zM265 158h1v1h-1zM265 162h1v1h-1zM265 166h1v1h-1zM265 170h1v1h-1zM265 174h1v1h-1zM265 178h1v1h-1zM265 182h1v1h-1zM265 186h1v1h-1zM265 190h1v1h-1zM265 194h1v1h-1zM265 198h1v1h-1zM265 202h1v1h-1zM265 206h1v1h-1zM265 210h1v1h-1zM265 214h1v1h-1zM265 218h1v1h-1zM265 222h1v1h-1zM265 226h1v1h-1zM265 230h1v1h-1zM341 133h1v1h-1zM341 137h1v1h-1zM341 141h1v1h-1zM341 145h1v1h-1zM341 149h1v1h-1zM341 153h1v1h-1zM341 157h1v1h-1zM341 161h1v1h-1zM341 165h1v1h-1zM341 169h1v1h-1zM341 173h1v1h-1zM341 177h1v1h-1zM341 181h1v1h-1zM341 185h1v1h-1zM341 189h1v1h-1zM341 193h1v1h-1zM341 197h1v1h-1zM341 201h1v1h-1zM341 205h1v1h-1zM341 209h1v1h-1zM341 213h1v1h-1zM341 217h1v1h-1zM341 221h1v1h-1zM341 225h1v1h-1zM341 229h1v1h-1zM341 233h1v1h-1zM417 132h1v1h-1zM417 136h1v1h-1zM417 140h1v1h-1zM417 144h1v1h-1zM417 148h1v1h-1zM417 152h1v1h-1zM417 156h1v1h-1zM417 160h1v1h-1zM417 164h1v1h-1zM417 168h1v1h-1zM417 172h1v1h-1zM417 176h1v1h-1zM417 180h1v1h-1zM417 184h1v1h-1zM417 188h1v1h-1zM417 192h1v1h-1zM417 196h1v1h-1zM417 200h1v1h-1zM417 204h1v1h-1zM417 208h1v1h-1zM417 212h1v1h-1zM417 216h1v1h-1zM417 220h1v1h-1zM417 224h1v1h-1zM417 228h1v1h-1zM417 232h1v1h-1zM494 135h1v1h-1zM494 139h1v1h-1zM494 143h1v1h-1zM494 147h1v1h-1zM494 151h1v1h-1zM494 155h1v1h-1zM494 159h1v1h-1zM494 163h1v1h-1zM494 167h1v1h-1zM494 171h1v1h-1zM494 175h1v1h-1zM494 179h1v1h-1zM494 183h1v1h-1zM494 187h1v1h-1zM494 191h1v1h-1zM494 195h1v1h-1zM494 199h1v1h-1zM494 203h1v1h-1zM494 207h1v1h-1zM494 211h1v1h-1zM494 215h1v1h-1zM494 219h1v1h-1zM494 223h1v1h-1zM494 227h1v1h-1zM494 231h1v1h-1zM570 134h1v1h-1zM570 138h1v1h-1zM570 142h1v1h-1zM570 146h1v1h-1zM570 150h1v1h-1zM570 154h1v1h-1zM570 158h1v1h-1zM570 162h1v1h-1zM570 166h1v1h-1zM570 170h1v1h-1zM570 174h1v1h-1zM570 178h1v1h-1zM570 182h1v1h-1zM570 186h1v1h-1zM570 190h1v1h-1zM570 194h1v1h-1zM570 198h1v1h-1zM570 202h1v1h-1zM570 206h1v1h-1zM570 210h1v1h-1zM570 214h1v1h-1zM570 218h1v1h-1zM570 222h1v1h-1zM570 226h1v1h-1zM570 230h1v1h-1z" fill="#646464"/>
<!-- panel Est. Planetary -->
<rect x="36" y="244" width="535" height="1" fill="#000"/>
<rect x="36" y="244" width="1" height="103" fill="#000"/>
<rect x="570" y="244" width="1" height="103" fill="#000"/>
<rect x="36" y="323" width="11" height="23" fill="#f0c000"/>
<rect x="37" y="324" width="9" height="22" fill="#009000"/>
<rect x="46" y="323" width="10" height="23" fill="#f0c000"/>
<rect x="47" y="324" width="8" height="22" fill="#009000"/>
<rect x="55" y="323" width="11" height="23" fill="#f0c000"/>
<rect x="56" y="324" width="9" height="22" fill="#009000"/>
<rect x="65" y="323" width="10" height="23" fill="#f0c000"/>
<rect x="66" y="324" width="8" height="22" fill="#009000"/>
<rect x="74" y="323" width="11" height="23" fill="#f0c000"/>
<rect x="75" y="324" width="9" height="22" fill="#009000"/>
<rect x="84" y="334" width="10" height="12" fill="#f0c000"/>
<rect x="85" y="335" width="8" height="11" fill="#009000"/>
<rect x="93" y="334" width="11" height="12" fill="#f0c000"/>
<rect x="94" y="335" width="9" height="11" fill="#009000"/>
<rect x="103" y="323" width="10" height="23" fill="#f0c000"/>
<rect x="104" y="324" width="8" height="22" fill="#009000"/>
<rect x="112" y="323" width="11" height="23" fill="#f0c000"/>
<rect x="113" y="324" width="9" height="22" fill="#009000"/>
<rect x="122" y="323" width="10" height="23" fill="#f0c000"/>
<rect x="123" y="324" width="8" height="22" fill="#009000"/>
<rect x="131" y="323" width="11" height="23" fill="#f0c000"/>
<rect x="132" y="324" width="9" height="22" fill="#009000"/>
<rect x="141" y="323" width="10" height="23" fill="#f0c000"/>
<rect x="142" y="324" width="8" height="22" fill="#009000"/>
<rect x="150" y="323" width="11" height="23" fill="#f0c000"/>
<rect x="151" y="324" width="9" height="22" fill="#009000"/>
<rect x="160" y="344" width="10" height="2" fill="#f0c000"/>
<rect x="161" y="345" width="8" height="1" fill="#009000"/>
<rect x="169" y="334" width="11" height="12" fill="#f0c000"/>
<rect x="170" y="335" width="9" height="11" fill="#009000"/>
<rect x="179" y="323" width="11" height="23" fill="#f0c000"/>
<rect x="180" y="324" width="9" height="22" fill="#009000"/>
<rect x="189" y="334" width="10" height="12" fill="#f0c000"/>
<rect x="190" y="335" width="8" height="11" fill="#009000"/>
<rect x="198" y="334" width="11" height="12" fill="#f0c000"/>
<rect x="199" y="335" width="9" height="11" fill="#009000"/>
<rect x="208" y="323" width="10" height="23" fill="#f0c000"/>
<rect x="209" y="324" width="8" height="22" fill="#009000"/>
<rect x="217" y="334" width="11" height="12" fill="#f0c000"/>
<rect x="218" y="335" width="9" height="11" fill="#009000"/>
<rect x="227" y="334" width="10" height="12" fill="#f0c000"/>
<rect x="228" y="335" width="8" height="11" fill="#009000"/>
<rect x="236" y="334" width="11" height="12" fill="#f0c000"/>
<rect x="237" y="335" width="9" height="11" fill="#009000"/>
<rect x="246" y="334" width="10" height="12" fill="#f0c000"/>
<rect x="247" y="335" width="8" height="11" fill="#009000"/>
<rect x="255" y="334" width="11" height="12" fill="#f0c000"/>
<rect x="256" y="335" width="9" height="11" fill="#009000"/>
<rect x="265" y="344" width="10" height="2" fill="#f0c000"/>
<rect x="266" y="345" width="8" height="1" fill="#009000"/>
<rect x="274" y="334" width="11" height="12" fill="#f0c000"/>
<rect x="275" y="335" width="9" height="11" fill="#009000"/>
<rect x="284" y="323" width="10" height="23" fill="#f0c000"/>
<rect x="285" y="324" width="8" height="22" fill="#009000"/>
<rect x="293" y="334" width="11" height="12" fill="#f0c000"/>
<rect x="294" y="335" width="9" height="11" fill="#009000"/>
<rect x="303" y="323" width="11" height="23" fill="#f0c000"/>
<rect x="304" y="324" width="9" height="22" fill="#009000"/>
<rect x="313" y="323" width="10" height="23" fill="#f0c000"/>
<rect x="314" y="324" width="8" height="22" fill="#009000"/>
<rect x="322" y="334" width="11" height="12" fill="#f0c000"/>
<rect x="323" y="335" width="9" height="11" fill="#009000"/>
<rect x="332" y="334" width="10" height="12" fill="#f0c000"/>
<rect x="333" y="335" width="8" height="11" fill="#009000"/>
<rect x="341" y="334" width="11" height="12" fill="#f0c000"/>
<rect x="342" y="335" width="9" height="11" fill="#009000"/>
<rect x="351" y="334" width="10" height="12" fill="#f0c000"/>
<rect x="352" y="335" width="8" height="11" fill="#009000"/>
<rect x="360" y="334" width="11" height="12" fill="#f0c000"/>
<rect x="361" y="335" width="9" height="11" fill="#009000"/>
<rect x="370" y="334" width="10" height="12" fill="#f0c000"/>
<rect x="371" y="335" width="8" height="11" fill="#009000"/>
<rect x="379" y="334" width="11" height="12" fill="#f0c000"/>
<rect x="380" y="335" width="9" height="11" fill="#009000"/>
<rect x="389" y="344" width="10" height="2" fill="#f0c000"/>
<rect x="390" y="345" width="8" height="1" fill="#009000"/>
<rect x="398" y="344" width="11" height="2" fill="#f0c000"/>
<rect x="399" y="345" width="9" height="1" fill="#009000"/>
<rect x="408" y="323" width="10" height="23" fill="#f0c000"/>
<rect x="409" y="324" width="8" height="22" fill="#009000"/>
<rect x="417" y="323" width="11" height="23" fill="#f0c000"/>
<rect x="418" y="324" width="9" height="22" fill="#009000"/>
<rect x="427" y="334" width="10" height="12" fill="#f0c000"/>
<rect x="428" y="335" width="8" height="11" fill="#009000"/>
<rect x="436" y="334" width="11" height="12" fill="#f0c000"/>
<rect x="437" y="335" width="9" height="11" fill="#009000"/>
<rect x="446" y="323" width="11" height="23" fill="#f0c000"/>
<rect x="447" y="324" width="9" height="22" fill="#009000"/>
<rect x="456" y="323" width="10" height="23" fill="#f0c000"/>
<rect x="457" y="324" width="8" height="22" fill="#009000"/>
<rect x="465" y="323" width="11" height="23" fill="#f0c000"/>
<rect x="466" y="324" width="9" height="22" fill="#009000"/>
<rect x="475" y="334" width="10" height="12" fill="#f0c000"/>
<rect x="476" y="335" width="8" height="11" fill="#009000"/>
<rect x="484" y="323" width="11" height="23" fill="#f0c000"/>
<rect x="485" y="324" width="9" height="22" fill="#009000"/>
<rect x="494" y="312" width="10" height="34" fill="#f0c000"/>
<rect x="495" y="313" width="8" height="33" fill="#009000"/>
<rect x="503" y="312" width="11" height="34" fill="#f0c000"/>
<rect x="504" y="313" width="9" height="33" fill="#009000"/>
<rect x="513" y="323" width="10" height="23" fill="#f0c000"/>
<rect x="514" y="324" width="8" height="22" fill="#009000"/>
<rect x="522" y="323" width="11" height="23" fill="#f0c000"/>
<rect x="523" y="324" width="9" height="22" fill="#009000"/>
<rect x="532" y="323" width="10" height="23" fill="#f0c000"/>
<rect x="533" y="324" width="8" height="22" fill="#009000"/>
<rect x="541" y="334" width="11" height="12" fill="#f0c000"/>
<rect x="542" y="335" width="9" height="11" fill="#009000"/>
<rect x="551" y="334" width="10" height="12" fill="#f0c000"/>
<rect x="552" y="335" width="8" height="11" fill="#009000"/>
<path d="M41 344h1v2h-1zM50 344h1v2h-1zM60 344h1v2h-1zM69 344h1v2h-1zM79 344h1v2h-1zM88 344h1v2h-1zM98 344h1v2h-1zM108 344h1v2h-1zM117 344h1v2h-1zM127 344h1v2h-1zM136 344h1v2h-1zM146 344h1v2h-1zM155 344h1v2h-1zM165 344h1v2h-1zM174 344h1v2h-1zM184 344h1v2h-1zM193 344h1v2h-1zM203 344h1v2h-1zM212 344h1v2h-1zM222 344h1v2h-1zM231 344h1v2h-1zM241 344h1v2h-1zM251 344h1v2h-1zM260 344h1v2h-1zM270 344h1v2h-1zM279 344h1v2h-1zM289 344h1v2h-1zM298 344h1v2h-1zM308 344h1v2h-1zM317 344h1v2h-1zM327 344h1v2h-1zM336 344h1v2h-1zM346 344h1v2h-1zM355 344h1v2h-1zM365 344h1v2h-1zM375 344h1v2h-1zM384 344h1v2h-1zM394 344h1v2h-1zM403 344h1v2h-1zM413 344h1v2h-1zM422 344h1v2h-1zM432 344h1v2h-1zM441 344h1v2h-1zM451 344h1v2h-1zM460 344h1v2h-1zM470 344h1v2h-1zM479 344h1v2h-1zM489 344h1v2h-1zM498 344h1v2h-1zM508 344h1v2h-1zM518 344h1v2h-1zM527 344h1v2h-1zM537 344h1v2h-1zM546 344h1v2h-1zM556 344h1v2h-1zM565 344h1v2h-1z" fill="#f0c000"/>
<rect x="36" y="346" width="535" height="1" fill="#000"/>
<path d="M112 245h1v1h-1zM189 245h1v1h-1zM265 245h1v1h-1zM341 245h1v1h-1zM417 245h1v1h-1zM494 245h1v1h-1z" fill="#000"/>
<path d="M37 266h1v1h-1zM41 266h1v1h-1zM45 266h1v1h-1zM49 266h1v1h-1zM53 266h1v1h-1zM57 266h1v1h-1zM61 266h1v1h-1zM65 266h1v1h-1zM69 266h1v1h-1zM73 266h1v1h-1zM77 266h1v1h-1zM81 266h1v1h-1zM85 266h1v1h-1zM89 266h1v1h-1zM93 266h1v1h-1zM97 266h1v1h-1zM101 266h1v1h-1zM105 266h1v1h-1zM109 266h1v1h-1zM113 266h1v1h-1zM117 266h1v1h-1zM121 266h1v1h-1zM125 266h1v1h-1zM129 266h1v1h-1zM133 266h1v1h-1zM137 266h1v1h-1zM141 266h1v1h-1zM145 266h1v1h-1zM149 266h1v1h-1zM153 266h1v1h-1zM157 266h1v1h-1zM161 266h1v1h-1zM165 266h1v1h-1zM169 266h1v1h-1zM173 266h1v1h-1zM177 266h1v1h-1zM181 266h1v1h-1zM185 266h1v1h-1zM189 266h1v1h-1zM193 266h1v1h-1zM197 266h1v1h-1zM201 266h1v1h-1zM205 266h1v1h-1zM209 266h1v1h-1zM213 266h1v1h-1zM217 266h1v1h-1zM221 266h1v1h-1zM225 266h1v1h-1zM229 266h1v1h-1zM233 266h1v1h-1zM237 266h1v1h-1zM241 266h1v1h-1zM245 266h1v1h-1zM249 266h1v1h-1zM253 266h1v1h-1zM257 266h1v1h-1zM261 266h1v1h-1zM265 266h1v1h-1zM269 266h1v1h-1zM273 266h1v1h-1zM277 266h1v1h-1zM281 266h1v1h-1zM285 266h1v1h-1zM289 266h1v1h-1zM293 266h1v1h-1zM297 266h1v1h-1zM301 266h1v1h-1zM305 266h1v1h-1zM309 266h1v1h-1zM313 266h1v1h-1zM317 266h1v1h-1zM321 266h1v1h-1zM325 266h1v1h-1zM329 266h1v1h-1zM333 266h1v1h-1zM337 266h1v1h-1zM341 266h1v1h-1zM345 266h1v1h-1zM349 266h1v1h-1zM353 266h1v1h-1zM357 266h1v1h-1zM361 266h1v1h-1zM365 266h1v1h-1zM369 266h1v1h-1zM373 266h1v1h-1zM377 266h1v1h-1zM381 266h1v1h-1zM385 266h1v1h-1zM389 266h1v1h-1zM393 266h1v1h-1zM397 266h1v1h-1zM401 266h1v1h-1zM405 266h1v1h-1zM409 266h1v1h-1zM413 266h1v1h-1zM417 266h1v1h-1zM421 266h1v1h-1zM425 266h1v1h-1zM429 266h1v1h-1zM433 266h1v1h-1zM437 266h1v1h-1zM441 266h1v1h-1zM445 266h1v1h-1zM449 266h1v1h-1zM453 266h1v1h-1zM457 266h1v1h-1zM461 266h1v1h-1zM465 266h1v1h-1zM469 266h1v1h-1zM473 266h1v1h-1zM477 266h1v1h-1zM481 266h1v1h-1zM485 266h1v1h-1zM489 266h1v1h-1zM493 266h1v1h-1zM497 266h1v1h-1zM501 266h1v1h-1zM505 266h1v1h-1zM509 266h1v1h-1zM513 266h1v1h-1zM517 266h1v1h-1zM521 266h1v1h-1zM525 266h1v1h-1zM529 266h1v1h-1zM533 266h1v1h-1zM537 266h1v1h-1zM541 266h1v1h-1zM545 266h1v1h-1zM549 266h1v1h-1zM553 266h1v1h-1zM557 266h1v1h-1zM561 266h1v1h-1zM565 266h1v1h-1zM569 266h1v1h-1zM36 289h1v1h-1zM40 289h1v1h-1zM44 289h1v1h-1zM48 289h1v1h-1zM52 289h1v1h-1zM56 289h1v1h-1zM60 289h1v1h-1zM64 289h1v1h-1zM68 289h1v1h-1zM72 289h1v1h-1zM76 289h1v1h-1zM80 289h1v1h-1zM84 289h1v1h-1zM88 289h1v1h-1zM92 289h1v1h-1zM96 289h1v1h-1zM100 289h1v1h-1zM104 289h1v1h-1zM108 289h1v1h-1zM112 289h1v1h-1zM116 289h1v1h-1zM120 289h1v1h-1zM124 289h1v1h-1zM128 289h1v1h-1zM132 289h1v1h-1zM136 289h1v1h-1zM140 289h1v1h-1zM144 289h1v1h-1zM148 289h1v1h-1zM152 289h1v1h-1zM156 289h1v1h-1zM160 289h1v1h-1zM164 289h1v1h-1zM168 289h1v1h-1zM172 289h1v1h-1zM176 289h1v1h-1zM180 289h1v1h-1zM184 289h1v1h-1zM188 289h1v1h-1zM192 289h1v1h-1zM196 289h1v1h-1zM200 289h1v1h-1zM204 289h1v1h-1zM208 289h1v1h-1zM212 289h1v1h-1zM216 289h1v1h-1zM220 289h1v1h-1zM224 289h1v1h-1zM228 289h1v1h-1zM232 289h1v1h-1zM236 289h1v1h-1zM240 289h1v1h-1zM244 289h1v1h-1zM248 289h1v1h-1zM252 289h1v1h-1zM256 289h1v1h-1zM260 289h1v1h-1zM264 289h1v1h-1zM268 289h1v1h-1zM272 289h1v1h-1zM276 289h1v1h-1zM280 289h1v1h-1zM284 289h1v1h-1zM288 289h1v1h-1zM292 289h1v1h-1zM296 289h1v1h-1zM300 289h1v1h-1zM304 289h1v1h-1zM308 289h1v1h-1zM312 289h1v1h-1zM316 289h1v1h-1zM320 289h1v1h-1zM324 289h1v1h-1zM328 289h1v1h-1zM332 289h1v1h-1zM336 289h1v1h-1zM340 289h1v1h-1zM344 289h1v1h-1zM348 289h1v1h-1zM352 289h1v1h-1zM356 289h1v1h-1zM360 289h1v1h-1zM364 289h1v1h-1zM368 289h1v1h-1zM372 289h1v1h-1zM376 289h1v1h-1zM380 289h1v1h-1zM384 289h1v1h-1zM388 289h1v1h-1zM392 289h1v1h-1zM396 289h1v1h-1zM400 289h1v1h-1zM404 289h1v1h-1zM408 289h1v1h-1zM412 289h1v1h-1zM416 289h1v1h-1zM420 289h1v1h-1zM424 289h1v1h-1zM428 289h1v1h-1zM432 289h1v1h-1zM436 289h1v1h-1zM440 289h1v1h-1zM444 289h1v1h-1zM448 289h1v1h-1zM452 289h1v1h-1zM456 289h1v1h-1zM460 289h1v1h-1zM464 289h1v1h-1zM468 289h1v1h-1zM472 289h1v1h-1zM476 289h1v1h-1zM480 289h1v1h-1zM484 289h1v1h-1zM488 289h1v1h-1zM492 289h1v1h-1zM496 289h1v1h-1zM500 289h1v1h-1zM504 289h1v1h-1zM508 289h1v1h-1zM512 289h1v1h-1zM516 289h1v1h-1zM520 289h1v1h-1zM524 289h1v1h-1zM528 289h1v1h-1zM532 289h1v1h-1zM536 289h1v1h-1zM540 289h1v1h-1zM544 289h1v1h-1zM548 289h1v1h-1zM552 289h1v1h-1zM556 289h1v1h-1zM560 289h1v1h-1zM564 289h1v1h-1zM568 289h1v1h-1zM39 300h1v1h-1zM43 300h1v1h-1zM47 300h1v1h-1zM51 300h1v1h-1zM55 300h1v1h-1zM59 300h1v1h-1zM63 300h1v1h-1zM67 300h1v1h-1zM71 300h1v1h-1zM75 300h1v1h-1zM79 300h1v1h-1zM83 300h1v1h-1zM87 300h1v1h-1zM91 300h1v1h-1zM95 300h1v1h-1zM99 300h1v1h-1zM103 300h1v1h-1zM107 300h1v1h-1zM111 300h1v1h-1zM115 300h1v1h-1zM119 300h1v1h-1zM123 300h1v1h-1zM127 300h1v1h-1zM131 300h1v1h-1zM135 300h1v1h-1zM139 300h1v1h-1zM143 300h1v1h-1zM147 300h1v1h-1zM151 300h1v1h-1zM155 300h1v1h-1zM159 300h1v1h-1zM163 300h1v1h-1zM167 300h1v1h-1zM171 300h1v1h-1zM175 300h1v1h-1zM179 300h1v1h-1zM183 300h1v1h-1zM187 300h1v1h-1zM191 300h1v1h-1zM195 300h1v1h-1zM199 300h1v1h-1zM203 300h1v1h-1zM207 300h1v1h-1zM211 300h1v1h-1zM215 300h1v1h-1zM219 300h1v1h-1zM223 300h1v1h-1zM227 300h1v1h-1zM231 300h1v1h-1zM235 300h1v1h-1zM239 300h1v1h-1zM243 300h1v1h-1zM247 300h1v1h-1zM251 300h1v1h-1zM255 300h1v1h-1zM259 300h1v1h-1zM263 300h1v1h-1zM267 300h1v1h-1zM271 300h1v1h-1zM275 300h1v1h-1zM279 300h1v1h-1zM283 300h1v1h-1zM287 300h1v1h-1zM291 300h1v1h-1zM295 300h1v1h-1zM299 300h1v1h-1zM303 300h1v1h-1zM307 300h1v1h-1zM311 300h1v1h-1zM315 300h1v1h-1zM319 300h1v1h-1zM323 300h1v1h-1zM327 300h1v1h-1zM331 300h1v1h-1zM335 300h1v1h-1zM339 300h1v1h-1zM343 300h1v1h-1zM347 300h1v1h-1zM351 300h1v1h-1zM355 300h1v1h-1zM359 300h1v1h-1zM363 300h1v1h-1zM367 300h1v1h-1zM371 300h1v1h-1zM375 300h1v1h-1zM379 300h1v1h-1zM383 300h1v1h-1zM387 300h1v1h-1zM391 300h1v1h-1zM395 300h1v1h-1zM399 300h1v1h-1zM403 300h1v1h-1zM407 300h1v1h-1zM411 300h1v1h-1zM415 300h1v1h-1zM419 300h1v1h-1zM423 300h1v1h-1zM427 300h1v1h-1zM431 300h1v1h-1zM435 300h1v1h-1zM439 300h1v1h-1zM443 300h1v1h-1zM447 300h1v1h-1zM451 300h1v1h-1zM455 300h1v1h-1zM459 300h1v1h-1zM463 300h1v1h-1zM467 300h1v1h-1zM471 300h1v1h-1zM475 300h1v1h-1zM479 300h1v1h-1zM483 300h1v1h-1zM487 300h1v1h-1zM491 300h1v1h-1zM495 300h1v1h-1zM499 300h1v1h-1zM503 300h1v1h-1zM507 300h1v1h-1zM511 300h1v1h-1zM515 300h1v1h-1zM519 300h1v1h-1zM523 300h1v1h-1zM527 300h1v1h-1zM531 300h1v1h-1zM535 300h1v1h-1zM539 300h1v1h-1zM543 300h1v1h-1zM547 300h1v1h-1zM551 300h1v1h-1zM555 300h1v1h-1zM559 300h1v1h-1zM563 300h1v1h-1zM567 300h1v1h-1zM112 246h1v1h-1zM112 250h1v1h-1zM112 254h1v1h-1zM112 258h1v1h-1zM112 262h1v1h-1zM112 266h1v1h-1zM112 270h1v1h-1zM112 274h1v1h-1zM112 278h1v1h-1zM112 282h1v1h-1zM112 286h1v1h-1zM112 290h1v1h-1zM112 294h1v1h-1zM112 298h1v1h-1zM112 302h1v1h-1zM112 306h1v1h-1zM112 310h1v1h-1zM112 314h1v1h-1zM112 318h1v1h-1zM112 322h1v1h-1zM112 326h1v1h-1zM112 330h1v1h-1zM112 334h1v1h-1zM112 338h1v1h-1zM112 342h1v1h-1zM189 245h1v1h-1zM189 249h1v1h-1zM189 253h1v1h-1zM189 257h1v1h-1zM189 261h1v1h-1zM189 265h1v1h-1zM189 269h1v1h-1zM189 273h1v1h-1zM189 277h1v1h-1zM189 281h1v1h-1zM189 285h1v1h-1zM189 289h1v1h-1zM189 293h1v1h-1zM189 297h1v1h-1zM189 301h1v1h-1zM189 305h1v1h-1zM189 309h1v1h-1zM189 313h1v1h-1zM189 317h1v1h-1zM189 321h1v1h-1zM189 325h1v1h-1zM189 329h1v1h-1zM189 333h1v1h-1zM189 337h1v1h-1zM189 341h1v1h-1zM189 345h1v1h-1zM265 244h1v1h-1zM265 248h1v1h-1zM265 252h1v1h-1zM265 256h1v1h-1zM265 260h1v1h-1zM265 264h1v1h-1zM265 268h1v1h-1zM265 272h1v1h-1zM265 276h1v1h-1zM265 280h1v1h-1zM265 284h1v1h-1zM265 288h1v1h-1zM265 292h1v1h-1zM265 296h1v1h-1zM265 300h1v1h-1zM265 304h1v1h-1zM265 308h1v1h-1zM265 312h1v1h-1zM265 316h1v1h-1zM265 320h1v1h-1zM265 324h1v1h-1zM265 328h1v1h-1zM265 332h1v1h-1zM265 336h1v1h-1zM265 340h1v1h-1zM265 344h1v1h-1zM341 247h1v1h-1zM341 251h1v1h-1zM341 255h1v1h-1zM341 259h1v1h-1zM341 263h1v1h-1zM341 267h1v1h-1zM341 271h1v1h-1zM341 275h1v1h-1zM341 279h1v1h-1zM341 283h1v1h-1zM341 287h1v1h-1zM341 291h1v1h-1zM341 295h1v1h-1zM341 299h1v1h-1zM341 303h1v1h-1zM341 307h1v1h-1zM341 311h1v1h-1zM341 315h1v1h-1zM341 319h1v1h-1zM341 323h1v1h-1zM341 327h1v1h-1zM341 331h1v1h-1zM341 335h1v1h-1zM341 339h1v1h-1zM341 343h1v1h-1zM417 246h1v1h-1zM417 250h1v1h-1zM417 254h1v1h-1zM417 258h1v1h-1zM417 262h1v1h-1zM417 266h1v1h-1zM417 270h1v1h-1zM417 274h1v1h-1zM417 278h1v1h-1zM417 282h1v1h-1zM417 286h1v1h-1zM417 290h1v1h-1zM417 294h1v1h-1zM417 298h1v1h-1zM417 302h1v1h-1zM417 306h1v1h-1zM417 310h1v1h-1zM417 314h1v1h-1zM417 318h1v1h-1zM417 322h1v1h-1zM417 326h1v1h-1zM417 330h1v1h-1zM417 334h1v1h-1zM417 338h1v1h-1zM417 342h1v1h-1zM494 245h1v1h-1zM494 249h1v1h-1zM494 253h1v1h-1zM494 257h1v1h-1zM494 261h1v1h-1zM494 265h1v1h-1zM494 269h1v1h-1zM494 273h1v1h-1zM494 277h1v1h-1zM494 281h1v1h-1zM494 285h1v1h-1zM494 289h1v1h-1zM494 293h1v1h-1zM494 297h1v1h-1zM494 301h1v1h-1zM494 305h1v1h-1zM494 309h1v1h-1zM494 313h1v1h-1zM494 317h1v1h-1zM494 321h1v1h-1zM494 325h1v1h-1zM494 329h1v1h-1zM494 333h1v1h-1zM494 337h1v1h-1zM494 341h1v1h-1zM494 345h1v1h-1zM570 244h1v1h-1zM570 248h1v1h-1zM570 252h1v1h-1zM570 256h1v1h-1zM570 260h1v1h-1zM570 264h1v1h-1zM570 268h1v1h-1zM570 272h1v1h-1zM570 276h1v1h-1zM570 280h1v1h-1zM570 284h1v1h-1zM570 288h1v1h-1zM570 292h1v1h-1zM570 296h1v1h-1zM570 300h1v1h-1zM570 304h1v1h-1zM570 308h1v1h-1zM570 312h1v1h-1zM570 316h1v1h-1zM570 320h1v1h-1zM570 324h1v1h-1zM570 328h1v1h-1zM570 332h1v1h-1zM570 336h1v1h-1zM570 340h1v1h-1zM570 344h1v1h-1z" fill="#646464"/>
<!-- panel College -->
<rect x="36" y="356" width="535" height="1" fill="#000"/>
<rect x="36" y="356" width="1" height="103" fill="#000"/>
<rect x="570" y="356" width="1" height="103" fill="#000"/>
<rect x="36" y="447" width="11" height="11" fill="#f0c000"/>
<rect x="37" y="448" width="9" height="10" fill="#009000"/>
<rect x="46" y="435" width="10" height="23" fill="#f0c000"/>
<rect x="47" y="436" width="8" height="22" fill="#009000"/>
<rect x="55" y="424" width="11" height="34" fill="#f0c000"/>
<rect x="56" y="425" width="9" height="33" fill="#009000"/>
<rect x="65" y="424" width="10" height="34" fill="#f0c000"/>
<rect x="66" y="425" width="8" height="33" fill="#009000"/>
<rect x="74" y="413" width="11" height="45" fill="#f0c000"/>
<rect x="75" y="414" width="9" height="44" fill="#f0c000"/>
<rect x="84" y="447" width="10" height="11" fill="#f0c000"/>
<rect x="85" y="448" width="8" height="10" fill="#009000"/>
<rect x="93" y="447" width="11" height="11" fill="#f0c000"/>
<rect x="94" y="448" width="9" height="10" fill="#009000"/>
<rect x="103" y="447" width="10" height="11" fill="#f0c000"/>
<rect x="104" y="448" width="8" height="10" fill="#009000"/>
<rect x="112" y="435" width="11" height="23" fill="#f0c000"/>
<rect x="113" y="436" width="9" height="22" fill="#009000"/>
<rect x="122" y="435" width="10" height="23" fill="#f0c000"/>
<rect x="123" y="436" width="8" height="22" fill="#009000"/>
<rect x="131" y="401" width="11" height="57" fill="#f0c000"/>
<rect x="132" y="402" width="9" height="56" fill="#ff0000"/>
<rect x="141" y="424" width="10" height="34" fill="#f0c000"/>
<rect x="142" y="425" width="8" height="33" fill="#009000"/>
<rect x="150" y="424" width="11" height="34" fill="#f0c000"/>
<rect x="151" y="425" width="9" height="33" fill="#009000"/>
<rect x="160" y="447" width="10" height="11" fill="#f0c000"/>
<rect x="161" y="448" width="8" height="10" fill="#009000"/>
<rect x="169" y="447" width="11" height="11" fill="#f0c000"/>
<rect x="170" y="448" width="9" height="10" fill="#009000"/>
<rect x="179" y="447" width="11" height="11" fill="#f0c000"/>
<rect x="180" y="448" width="9" height="10" fill="#009000"/>
<rect x="189" y="456" width="10" height="2" fill="#f0c000"/>
<rect x="190" y="457" width="8" height="1" fill="#009000"/>
<rect x="198" y="435" width="11" height="23" fill="#f0c000"/>
<rect x="199" y="436" width="9" height="22" fill="#009000"/>
<rect x="208" y="424" width="10" height="34" fill="#f0c000"/>
<rect x="209" y="425" width="8" height="33" fill="#009000"/>
<rect x="217" y="456" width="11" height="2" fill="#f0c000"/>
<rect x="218" y="457" width="9" height="1" fill="#009000"/>
<rect x="227" y="447" width="10" height="11" fill="#f0c000"/>
<rect x="228" y="448" width="8" height="10" fill="#009000"/>
<rect x="236" y="447" width="11" height="11" fill="#f0c000"/>
<rect x="237" y="448" width="9" height="10" fill="#009000"/>
<rect x="246" y="447" width="10" height="11" fill="#f0c000"/>
<rect x="247" y="448" width="8" height="10" fill="#009000"/>
<rect x="255" y="456" width="11" height="2" fill="#f0c000"/>
<rect x="256" y="457" width="9" height="1" fill="#009000"/>
<rect x="265" y="456" width="10" height="2" fill="#f0c000"/>
<rect x="266" y="457" width="8" height="1" fill="#009000"/>
<rect x="274" y="456" width="11" height="2" fill="#f0c000"/>
<rect x="275" y="457" width="9" height="1" fill="#009000"/>
<rect x="284" y="424" width="10" height="34" fill="#f0c000"/>
<rect x="285" y="425" width="8" height="33" fill="#009000"/>
<rect x="293" y="435" width="11" height="23" fill="#f0c000"/>
<rect x="294" y="436" width="9" height="22" fill="#009000"/>
<rect x="303" y="424" width="11" height="34" fill="#f0c000"/>
<rect x="304" y="425" width="9" height="33" fill="#009000"/>
<rect x="313" y="447" width="10" height="11" fill="#f0c000"/>
<rect x="314" y="448" width="8" height="10" fill="#009000"/>
<rect x="322" y="456" width="11" height="2" fill="#f0c000"/>
<rect x="323" y="457" width="9" height="1" fill="#009000"/>
<rect x="332" y="456" width="10" height="2" fill="#f0c000"/>
<rect x="333" y="457" width="8" height="1" fill="#009000"/>
<rect x="341" y="456" width="11" height="2" fill="#f0c000"/>
<rect x="342" y="457" width="9" height="1" fill="#009000"/>
<rect x="351" y="456" width="10" height="2" fill="#f0c000"/>
<rect x="352" y="457" width="8" height="1" fill="#009000"/>
<rect x="360" y="456" width="11" height="2" fill="#f0c000"/>
<rect x="361" y="457" width="9" height="1" fill="#009000"/>
<rect x="370" y="456" width="10" height="2" fill="#f0c000"/>
<rect x="371" y="457" width="8" height="1" fill="#009000"/>
<rect x="379" y="447" width="11" height="11" fill="#f0c000"/>
<rect x="380" y="448" width="9" height="10" fill="#009000"/>
<rect x="389" y="456" width="10" height="2" fill="#f0c000"/>
<rect x="390" y="457" width="8" height="1" fill="#009000"/>
<rect x="398" y="456" width="11" height="2" fill="#f0c000"/>
<rect x="399" y="457" width="9" height="1" fill="#009000"/>
<rect x="408" y="447" width="10" height="11" fill="#f0c000"/>
<rect x="409" y="448" width="8" height="10" fill="#009000"/>
<rect x="417" y="435" width="11" height="23" fill="#f0c000"/>
<rect x="418" y="436" width="9" height="22" fill="#009000"/>
<rect x="427" y="447" width="10" height="11" fill="#f0c000"/>
<rect x="428" y="448" width="8" height="10" fill="#009000"/>
<rect x="436" y="447" width="11" height="11" fill="#f0c000"/>
<rect x="437" y="448" width="9" height="10" fill="#009000"/>
<rect x="446" y="424" width="11" height="34" fill="#f0c000"/>
<rect x="447" y="425" width="9" height="33" fill="#009000"/>
<rect x="456" y="435" width="10" height="23" fill="#f0c000"/>
<rect x="457" y="436" width="8" height="22" fill="#009000"/>
<rect x="465" y="424" width="11" height="34" fill="#f0c000"/>
<rect x="466" y="425" width="9" height="33" fill="#009000"/>
<rect x="475" y="447" width="10" height="11" fill="#f0c000"/>
<rect x="476" y="448" width="8" height="10" fill="#009000"/>
<rect x="484" y="447" width="11" height="11" fill="#f0c000"/>
<rect x="485" y="448" width="9" height="10" fill="#009000"/>
<rect x="494" y="435" width="10" height="23" fill="#f0c000"/>
<rect x="495" y="436" width="8" height="22" fill="#009000"/>
<rect x="503" y="413" width="11" height="45" fill="#f0c000"/>
<rect x="504" y="414" width="9" height="44" fill="#f0c000"/>
<rect x="513" y="413" width="10" height="45" fill="#f0c000"/>
<rect x="514" y="414" width="8" height="44" fill="#f0c000"/>
<rect x="522" y="435" width="11" height="23" fill="#f0c000"/>
<rect x="523" y="436" width="9" height="22" fill="#009000"/>
<rect x="532" y="424" width="10" height="34" fill="#f0c000"/>
<rect x="533" y="425" width="8" height="33" fill="#009000"/>
<rect x="541" y="447" width="11" height="11" fill="#f0c000"/>
<rect x="542" y="448" width="9" height="10" fill="#009000"/>
<rect x="551" y="447" width="10" height="11" fill="#f0c000"/>
<rect x="552" y="448" width="8" height="10" fill="#009000"/>
<rect x="560" y="456" width="11" height="2" fill="#f0c000"/>
<rect x="561" y="457" width="9" height="1" fill="#009000"/>
<path d="M41 456h1v2h-1zM50 456h1v2h-1zM60 456h1v2h-1zM69 456h1v2h-1zM79 456h1v2h-1zM88 456h1v2h-1zM98 456h1v2h-1zM108 456h1v2h-1zM117 456h1v2h-1zM127 456h1v2h-1zM136 456h1v2h-1zM146 456h1v2h-1zM155 456h1v2h-1zM165 456h1v2h-1zM174 456h1v2h-1zM184 456h1v2h-1zM193 456h1v2h-1zM203 456h1v2h-1zM212 456h1v2h-1zM222 456h1v2h-1zM231 456h1v2h-1zM241 456h1v2h-1zM251 456h1v2h-1zM260 456h1v2h-1zM270 456h1v2h-1zM279 456h1v2h-1zM289 456h1v2h-1zM298 456h1v2h-1zM308 456h1v2h-1zM317 456h1v2h-1zM327 456h1v2h-1zM336 456h1v2h-1zM346 456h1v2h-1zM355 456h1v2h-1zM365 456h1v2h-1zM375 456h1v2h-1zM384 456h1v2h-1zM394 456h1v2h-1zM403 456h1v2h-1zM413 456h1v2h-1zM422 456h1v2h-1zM432 456h1v2h-1zM441 456h1v2h-1zM451 456h1v2h-1zM460 456h1v2h-1zM470 456h1v2h-1zM479 456h1v2h-1zM489 456h1v2h-1zM498 456h1v2h-1zM508 456h1v2h-1zM518 456h1v2h-1zM527 456h1v2h-1zM537 456h1v2h-1zM546 456h1v2h-1zM556 456h1v2h-1zM565 456h1v2h-1z" fill="#f0c000"/>
<rect x="36" y="458" width="535" height="1" fill="#000"/>
<path d="M112 357h1v2h-1zM189 357h1v2h-1zM265 357h1v2h-1zM341 357h1v2h-1zM417 357h1v2h-1zM494 357h1v2h-1z" fill="#000"/>
<path d="M39 379h1v1h-1zM43 379h1v1h-1zM47 379h1v1h-1zM51 379h1v1h-1zM55 379h1v1h-1zM59 379h1v1h-1zM63 379h1v1h-1zM67 379h1v1h-1zM71 379h1v1h-1zM75 379h1v1h-1zM79 379h1v1h-1zM83 379h1v1h-1zM87 379h1v1h-1zM91 379h1v1h-1zM95 379h1v1h-1zM99 379h1v1h-1zM103 379h1v1h-1zM107 379h1v1h-1zM111 379h1v1h-1zM115 379h1v1h-1zM119 379h1v1h-1zM123 379h1v1h-1zM127 379h1v1h-1zM131 379h1v1h-1zM135 379h1v1h-1zM139 379h1v1h-1zM143 379h1v1h-1zM147 379h1v1h-1zM151 379h1v1h-1zM155 379h1v1h-1zM159 379h1v1h-1zM163 379h1v1h-1zM167 379h1v1h-1zM171 379h1v1h-1zM175 379h1v1h-1zM179 379h1v1h-1zM183 379h1v1h-1zM187 379h1v1h-1zM191 379h1v1h-1zM195 379h1v1h-1zM199 379h1v1h-1zM203 379h1v1h-1zM207 379h1v1h-1zM211 379h1v1h-1zM215 379h1v1h-1zM219 379h1v1h-1zM223 379h1v1h-1zM227 379h1v1h-1zM231 379h1v1h-1zM235 379h1v1h-1zM239 379h1v1h-1zM243 379h1v1h-1zM247 379h1v1h-1zM251 379h1v1h-1zM255 379h1v1h-1zM259 379h1v1h-1zM263 379h1v1h-1zM267 379h1v1h-1zM271 379h1v1h-1zM275 379h1v1h-1zM279 379h1v1h-1zM283 379h1v1h-1zM287 379h1v1h-1zM291 379h1v1h-1zM295 379h1v1h-1zM299 379h1v1h-1zM303 379h1v1h-1zM307 379h1v1h-1zM311 379h1v1h-1zM315 379h1v1h-1zM319 379h1v1h-1zM323 379h1v1h-1zM327 379h1v1h-1zM331 379h1v1h-1zM335 379h1v1h-1zM339 379h1v1h-1zM343 379h1v1h-1zM347 379h1v1h-1zM351 379h1v1h-1zM355 379h1v1h-1zM359 379h1v1h-1zM363 379h1v1h-1zM367 379h1v1h-1zM371 379h1v1h-1zM375 379h1v1h-1zM379 379h1v1h-1zM383 379h1v1h-1zM387 379h1v1h-1zM391 379h1v1h-1zM395 379h1v1h-1zM399 379h1v1h-1zM403 379h1v1h-1zM407 379h1v1h-1zM411 379h1v1h-1zM415 379h1v1h-1zM419 379h1v1h-1zM423 379h1v1h-1zM427 379h1v1h-1zM431 379h1v1h-1zM435 379h1v1h-1zM439 379h1v1h-1zM443 379h1v1h-1zM447 379h1v1h-1zM451 379h1v1h-1zM455 379h1v1h-1zM459 379h1v1h-1zM463 379h1v1h-1zM467 379h1v1h-1zM471 379h1v1h-1zM475 379h1v1h-1zM479 379h1v1h-1zM483 379h1v1h-1zM487 379h1v1h-1zM491 379h1v1h-1zM495 379h1v1h-1zM499 379h1v1h-1zM503 379h1v1h-1zM507 379h1v1h-1zM511 379h1v1h-1zM515 379h1v1h-1zM519 379h1v1h-1zM523 379h1v1h-1zM527 379h1v1h-1zM531 379h1v1h-1zM535 379h1v1h-1zM539 379h1v1h-1zM543 379h1v1h-1zM547 379h1v1h-1zM551 379h1v1h-1zM555 379h1v1h-1zM559 379h1v1h-1zM563 379h1v1h-1zM567 379h1v1h-1zM38 401h1v1h-1zM42 401h1v1h-1zM46 401h1v1h-1zM50 401h1v1h-1zM54 401h1v1h-1zM58 401h1v1h-1zM62 401h1v1h-1zM66 401h1v1h-1zM70 401h1v1h-1zM74 401h1v1h-1zM78 401h1v1h-1zM82 401h1v1h-1zM86 401h1v1h-1zM90 401h1v1h-1zM94 401h1v1h-1zM98 401h1v1h-1zM102 401h1v1h-1zM106 401h1v1h-1zM110 401h1v1h-1zM114 401h1v1h-1zM118 401h1v1h-1zM122 401h1v1h-1zM126 401h1v1h-1zM130 401h1v1h-1zM134 401h1v1h-1zM138 401h1v1h-1zM142 401h1v1h-1zM146 401h1v1h-1zM150 401h1v1h-1zM154 401h1v1h-1zM158 401h1v1h-1zM162 401h1v1h-1zM166 401h1v1h-1zM170 401h1v1h-1zM174 401h1v1h-1zM178 401h1v1h-1zM182 401h1v1h-1zM186 401h1v1h-1zM190 401h1v1h-1zM194 401h1v1h-1zM198 401h1v1h-1zM202 401h1v1h-1zM206 401h1v1h-1zM210 401h1v1h-1zM214 401h1v1h-1zM218 401h1v1h-1zM222 401h1v1h-1zM226 401h1v1h-1zM230 401h1v1h-1zM234 401h1v1h-1zM238 401h1v1h-1zM242 401h1v1h-1zM246 401h1v1h-1zM250 401h1v1h-1zM254 401h1v1h-1zM258 401h1v1h-1zM262 401h1v1h-1zM266 401h1v1h-1zM270 401h1v1h-1zM274 401h1v1h-1zM278 401h1v1h-1zM282 401h1v1h-1zM286 401h1v1h-1zM290 401h1v1h-1zM294 401h1v1h-1zM298 401h1v1h-1zM302 401h1v1h-1zM306 401h1v1h-1zM310 401h1v1h-1zM314 401h1v1h-1zM318 401h1v1h-1zM322 401h1v1h-1zM326 401h1v1h-1zM330 401h1v1h-1zM334 401h1v1h-1zM338 401h1v1h-1zM342 401h1v1h-1zM346 401h1v1h-1zM350 401h1v1h-1zM354 401h1v1h-1zM358 401h1v1h-1zM362 401h1v1h-1zM366 401h1v1h-1zM370 401h1v1h-1zM374 401h1v1h-1zM378 401h1v1h-1zM382 401h1v1h-1zM386 401h1v1h-1zM390 401h1v1h-1zM394 401h1v1h-1zM398 401h1v1h-1zM402 401h1v1h-1zM406 401h1v1h-1zM410 401h1v1h-1zM414 401h1v1h-1zM418 401h1v1h-1zM422 401h1v1h-1zM426 401h1v1h-1zM430 401h1v1h-1zM434 401h1v1h-1zM438 401h1v1h-1zM442 401h1v1h-1zM446 401h1v1h-1zM450 401h1v1h-1zM454 401h1v1h-1zM458 401h1v1h-1zM462 401h1v1h-1zM466 401h1v1h-1zM470 401h1v1h-1zM474 401h1v1h-1zM478 401h1v1h-1zM482 401h1v1h-1zM486 401h1v1h-1zM490 401h1v1h-1zM494 401h1v1h-1zM498 401h1v1h-1zM502 401h1v1h-1zM506 401h1v1h-1zM510 401h1v1h-1zM514 401h1v1h-1zM518 401h1v1h-1zM522 401h1v1h-1zM526 401h1v1h-1zM530 401h1v1h-1zM534 401h1v1h-1zM538 401h1v1h-1zM542 401h1v1h-1zM546 401h1v1h-1zM550 401h1v1h-1zM554 401h1v1h-1zM558 401h1v1h-1zM562 401h1v1h-1zM566 401h1v1h-1zM570 401h1v1h-1zM37 413h1v1h-1zM41 413h1v1h-1zM45 413h1v1h-1zM49 413h1v1h-1zM53 413h1v1h-1zM57 413h1v1h-1zM61 413h1v1h-1zM65 413h1v1h-1zM69 413h1v1h-1zM73 413h1v1h-1zM77 413h1v1h-1zM81 413h1v1h-1zM85 413h1v1h-1zM89 413h1v1h-1zM93 413h1v1h-1zM97 413h1v1h-1zM101 413h1v1h-1zM105 413h1v1h-1zM109 413h1v1h-1zM113 413h1v1h-1zM117 413h1v1h-1zM121 413h1v1h-1zM125 413h1v1h-1zM129 413h1v1h-1zM133 413h1v1h-1zM137 413h1v1h-1zM141 413h1v1h-1zM145 413h1v1h-1zM149 413h1v1h-1zM153 413h1v1h-1zM157 413h1v1h-1zM161 413h1v1h-1zM165 413h1v1h-1zM169 413h1v1h-1zM173 413h1v1h-1zM177 413h1v1h-1zM181 413h1v1h-1zM185 413h1v1h-1zM189 413h1v1h-1zM193 413h1v1h-1zM197 413h1v1h-1zM201 413h1v1h-1zM205 413h1v1h-1zM209 413h1v1h-1zM213 413h1v1h-1zM217 413h1v1h-1zM221 413h1v1h-1zM225 413h1v1h-1zM229 413h1v1h-1zM233 413h1v1h-1zM237 413h1v1h-1zM241 413h1v1h-1zM245 413h1v1h-1zM249 413h1v1h-1zM253 413h1v1h-1zM257 413h1v1h-1zM261 413h1v1h-1zM265 413h1v1h-1zM269 413h1v1h-1zM273 413h1v1h-1zM277 413h1v1h-1zM281 413h1v1h-1zM285 413h1v1h-1zM289 413h1v1h-1zM293 413h1v1h-1zM297 413h1v1h-1zM301 413h1v1h-1zM305 413h1v1h-1zM309 413h1v1h-1zM313 413h1v1h-1zM317 413h1v1h-1zM321 413h1v1h-1zM325 413h1v1h-1zM329 413h1v1h-1zM333 413h1v1h-1zM337 413h1v1h-1zM341 413h1v1h-1zM345 413h1v1h-1zM349 413h1v1h-1zM353 413h1v1h-1zM357 413h1v1h-1zM361 413h1v1h-1zM365 413h1v1h-1zM369 413h1v1h-1zM373 413h1v1h-1zM377 413h1v1h-1zM381 413h1v1h-1zM385 413h1v1h-1zM389 413h1v1h-1zM393 413h1v1h-1zM397 413h1v1h-1zM401 413h1v1h-1zM405 413h1v1h-1zM409 413h1v1h-1zM413 413h1v1h-1zM417 413h1v1h-1zM421 413h1v1h-1zM425 413h1v1h-1zM429 413h1v1h-1zM433 413h1v1h-1zM437 413h1v1h-1zM441 413h1v1h-1zM445 413h1v1h-1zM449 413h1v1h-1zM453 413h1v1h-1zM457 413h1v1h-1zM461 413h1v1h-1zM465 413h1v1h-1zM469 413h1v1h-1zM473 413h1v1h-1zM477 413h1v1h-1zM481 413h1v1h-1zM485 413h1v1h-1zM489 413h1v1h-1zM493 413h1v1h-1zM497 413h1v1h-1zM501 413h1v1h-1zM505 413h1v1h-1zM509 413h1v1h-1zM513 413h1v1h-1zM517 413h1v1h-1zM521 413h1v1h-1zM525 413h1v1h-1zM529 413h1v1h-1zM533 413h1v1h-1zM537 413h1v1h-1zM541 413h1v1h-1zM545 413h1v1h-1zM549 413h1v1h-1zM553 413h1v1h-1zM557 413h1v1h-1zM561 413h1v1h-1zM565 413h1v1h-1zM569 413h1v1h-1zM112 356h1v1h-1zM112 360h1v1h-1zM112 364h1v1h-1zM112 368h1v1h-1zM112 372h1v1h-1zM112 376h1v1h-1zM112 380h1v1h-1zM112 384h1v1h-1zM112 388h1v1h-1zM112 392h1v1h-1zM112 396h1v1h-1zM112 400h1v1h-1zM112 404h1v1h-1zM112 408h1v1h-1zM112 412h1v1h-1zM112 416h1v1h-1zM112 420h1v1h-1zM112 424h1v1h-1zM112 428h1v1h-1zM112 432h1v1h-1zM112 436h1v1h-1zM112 440h1v1h-1zM112 444h1v1h-1zM112 448h1v1h-1zM112 452h1v1h-1zM112 456h1v1h-1zM189 359h1v1h-1zM189 363h1v1h-1zM189 367h1v1h-1zM189 371h1v1h-1zM189 375h1v1h-1zM189 379h1v1h-1zM189 383h1v1h-1zM189 387h1v1h-1zM189 391h1v1h-1zM189 395h1v1h-1zM189 399h1v1h-1zM189 403h1v1h-1zM189 407h1v1h-1zM189 411h1v1h-1zM189 415h1v1h-1zM189 419h1v1h-1zM189 423h1v1h-1zM189 427h1v1h-1zM189 431h1v1h-1zM189 435h1v1h-1zM189 439h1v1h-1zM189 443h1v1h-1zM189 447h1v1h-1zM189 451h1v1h-1zM189 455h1v1h-1zM265 358h1v1h-1zM265 362h1v1h-1zM265 366h1v1h-1zM265 370h1v1h-1zM265 374h1v1h-1zM265 378h1v1h-1zM265 382h1v1h-1zM265 386h1v1h-1zM265 390h1v1h-1zM265 394h1v1h-1zM265 398h1v1h-1zM265 402h1v1h-1zM265 406h1v1h-1zM265 410h1v1h-1zM265 414h1v1h-1zM265 418h1v1h-1zM265 422h1v1h-1zM265 426h1v1h-1zM265 430h1v1h-1zM265 434h1v1h-1zM265 438h1v1h-1zM265 442h1v1h-1zM265 446h1v1h-1zM265 450h1v1h-1zM265 454h1v1h-1zM341 357h1v1h-1zM341 361h1v1h-1zM341 365h1v1h-1zM341 369h1v1h-1zM341 373h1v1h-1zM341 377h1v1h-1zM341 381h1v1h-1zM341 385h1v1h-1zM341 389h1v1h-1zM341 393h1v1h-1zM341 397h1v1h-1zM341 401h1v1h-1zM341 405h1v1h-1zM341 409h1v1h-1zM341 413h1v1h-1zM341 417h1v1h-1zM341 421h1v1h-1zM341 425h1v1h-1zM341 429h1v1h-1zM341 433h1v1h-1zM341 437h1v1h-1zM341 441h1v1h-1zM341 445h1v1h-1zM341 449h1v1h-1zM341 453h1v1h-1zM341 457h1v1h-1zM417 356h1v1h-1zM417 360h1v1h-1zM417 364h1v1h-1zM417 368h1v1h-1zM417 372h1v1h-1zM417 376h1v1h-1zM417 380h1v1h-1zM417 384h1v1h-1zM417 388h1v1h-1zM417 392h1v1h-1zM417 396h1v1h-1zM417 400h1v1h-1zM417 404h1v1h-1zM417 408h1v1h-1zM417 412h1v1h-1zM417 416h1v1h-1zM417 420h1v1h-1zM417 424h1v1h-1zM417 428h1v1h-1zM417 432h1v1h-1zM417 436h1v1h-1zM417 440h1v1h-1zM417 444h1v1h-1zM417 448h1v1h-1zM417 452h1v1h-1zM417 456h1v1h-1zM494 359h1v1h-1zM494 363h1v1h-1zM494 367h1v1h-1zM494 371h1v1h-1zM494 375h1v1h-1zM494 379h1v1h-1zM494 383h1v1h-1zM494 387h1v1h-1zM494 391h1v1h-1zM494 395h1v1h-1zM494 399h1v1h-1zM494 403h1v1h-1zM494 407h1v1h-1zM494 411h1v1h-1zM494 415h1v1h-1zM494 419h1v1h-1zM494 423h1v1h-1zM494 427h1v1h-1zM494 431h1v1h-1zM494 435h1v1h-1zM494 439h1v1h-1zM494 443h1v1h-1zM494 447h1v1h-1zM494 451h1v1h-1zM494 455h1v1h-1zM570 358h1v1h-1zM570 362h1v1h-1zM570 366h1v1h-1zM570 370h1v1h-1zM570 374h1v1h-1zM570 378h1v1h-1zM570 382h1v1h-1zM570 386h1v1h-1zM570 390h1v1h-1zM570 394h1v1h-1zM570 398h1v1h-1zM570 402h1v1h-1zM570 406h1v1h-1zM570 410h1v1h-1zM570 414h1v1h-1zM570 418h1v1h-1zM570 422h1v1h-1zM570 426h1v1h-1zM570 430h1v1h-1zM570 434h1v1h-1zM570 438h1v1h-1zM570 442h1v1h-1zM570 446h1v1h-1zM570 450h1v1h-1zM570 454h1v1h-1z" fill="#646464"/>
<rect x="384" y="5" width="13" height="10" fill="#009000"/>
<rect x="444" y="5" width="13" height="10" fill="#f0c000"/>
<rect x="486" y="5" width="13" height="10" fill="#ff0000"/>
<rect x="546" y="5" width="13" height="10" fill="#400080"/>
</g>
<g shape-rendering="crispEdges">
<path d="M84 4h1v1h-1zM106 4h1v1h-1zM2 5h6v1h-6zM23 5h1v1h-1zM62 5h1v1h-1zM69 5h1v1h-1zM84 5h2v1h-2zM102 5h1v1h-1zM105 5h2v1h-2zM142 5h3v1h-3zM169 5h1v1h-1zM194 5h1v1h-1zM206 5h8v1h-8zM228 5h1v1h-1zM6 6h1v1h-1zM23 6h1v1h-1zM62 6h1v1h-1zM68 6h1v1h-1zM102 6h1v1h-1zM142 6h1v1h-1zM169 6h1v1h-1zM194 6h1v1h-1zM212 6h1v1h-1zM228 6h1v1h-1zM5 7h1v1h-1zM23 7h1v1h-1zM62 7h1v1h-1zM67 7h1v1h-1zM102 7h1v1h-1zM142 7h1v1h-1zM169 7h1v1h-1zM194 7h1v1h-1zM212 7h1v1h-1zM228 7h1v1h-1zM337 7h1v1h-1zM372 7h1v1h-1zM405 7h1v1h-1zM419 7h4v1h-4zM466 7h1v1h-1zM505 7h5v1h-5zM517 7h2v1h-2zM565 7h5v1h-5zM582 7h1v1h-1zM4 8h3v1h-3zM23 8h5v1h-5zM32 8h5v1h-5zM40 8h1v1h-1zM45 8h1v1h-1zM49 8h5v1h-5zM62 8h1v1h-1zM65 8h2v1h-2zM84 8h1v1h-1zM88 8h6v1h-6zM98 8h5v1h-5zM106 8h1v1h-1zM110 8h4v1h-4zM119 8h4v1h-4zM126 8h5v1h-5zM140 8h5v1h-5zM148 8h4v1h-4zM156 8h4v1h-4zM169 8h1v1h-1zM178 8h5v1h-5zM186 8h5v1h-5zM193 8h4v1h-4zM211 8h1v1h-1zM224 8h5v1h-5zM233 8h5v1h-5zM240 8h1v1h-1zM245 8h1v1h-1zM248 8h5v1h-5zM337 8h1v1h-1zM372 8h1v1h-1zM404 8h1v1h-1zM406 8h1v1h-1zM421 8h1v1h-1zM465 8h2v1h-2zM505 8h1v1h-1zM516 8h1v1h-1zM519 8h1v1h-1zM569 8h1v1h-1zM580 8h2v1h-2zM583 8h2v1h-2zM6 9h2v1h-2zM23 9h2v1h-2zM28 9h1v1h-1zM31 9h1v1h-1zM37 9h1v1h-1zM40 9h1v1h-1zM45 9h1v1h-1zM49 9h2v1h-2zM62 9h1v1h-1zM64 9h2v1h-2zM84 9h1v1h-1zM88 9h2v1h-2zM93 9h1v1h-1zM97 9h1v1h-1zM102 9h1v1h-1zM106 9h1v1h-1zM109 9h1v1h-1zM114 9h1v1h-1zM118 9h1v1h-1zM122 9h1v1h-1zM125 9h1v1h-1zM131 9h1v1h-1zM142 9h1v1h-1zM147 9h1v1h-1zM152 9h1v1h-1zM156 9h1v1h-1zM169 9h1v1h-1zM177 9h1v1h-1zM182 9h1v1h-1zM185 9h1v1h-1zM190 9h1v1h-1zM194 9h1v1h-1zM211 9h1v1h-1zM223 9h1v1h-1zM228 9h1v1h-1zM232 9h1v1h-1zM237 9h1v1h-1zM241 9h1v1h-1zM245 9h1v1h-1zM248 9h1v1h-1zM253 9h1v1h-1zM337 9h1v1h-1zM372 9h1v1h-1zM403 9h1v1h-1zM407 9h1v1h-1zM421 9h1v1h-1zM465 9h2v1h-2zM505 9h1v1h-1zM515 9h1v1h-1zM568 9h1v1h-1zM580 9h1v1h-1zM584 9h1v1h-1zM7 10h1v1h-1zM11 10h9v1h-9zM23 10h1v1h-1zM28 10h1v1h-1zM31 10h1v1h-1zM37 10h1v1h-1zM40 10h1v1h-1zM45 10h1v1h-1zM49 10h2v1h-2zM62 10h2v1h-2zM66 10h1v1h-1zM72 10h10v1h-10zM84 10h1v1h-1zM88 10h1v1h-1zM93 10h1v1h-1zM96 10h1v1h-1zM102 10h1v1h-1zM106 10h1v1h-1zM109 10h1v1h-1zM117 10h1v1h-1zM123 10h1v1h-1zM126 10h1v1h-1zM142 10h1v1h-1zM146 10h1v1h-1zM152 10h1v1h-1zM156 10h1v1h-1zM169 10h1v1h-1zM176 10h1v1h-1zM182 10h1v1h-1zM186 10h1v1h-1zM194 10h1v1h-1zM210 10h1v1h-1zM223 10h1v1h-1zM228 10h1v1h-1zM232 10h1v1h-1zM237 10h1v1h-1zM241 10h1v1h-1zM244 10h1v1h-1zM248 10h1v1h-1zM337 10h1v1h-1zM344 10h3v1h-3zM350 10h4v1h-4zM356 10h4v1h-4zM361 10h5v1h-5zM368 10h5v1h-5zM374 10h2v1h-2zM403 10h1v1h-1zM407 10h1v1h-1zM420 10h3v1h-3zM464 10h1v1h-1zM466 10h1v1h-1zM505 10h4v1h-4zM515 10h4v1h-4zM568 10h1v1h-1zM580 10h1v1h-1zM584 10h1v1h-1zM7 11h1v1h-1zM23 11h1v1h-1zM28 11h1v1h-1zM31 11h1v1h-1zM37 11h1v1h-1zM40 11h1v1h-1zM45 11h1v1h-1zM49 11h1v1h-1zM62 11h1v1h-1zM67 11h1v1h-1zM84 11h1v1h-1zM88 11h1v1h-1zM93 11h1v1h-1zM96 11h1v1h-1zM102 11h1v1h-1zM106 11h1v1h-1zM109 11h1v1h-1zM117 11h7v1h-7zM127 11h3v1h-3zM142 11h1v1h-1zM146 11h1v1h-1zM152 11h1v1h-1zM156 11h1v1h-1zM169 11h1v1h-1zM176 11h1v1h-1zM182 11h1v1h-1zM187 11h3v1h-3zM194 11h1v1h-1zM210 11h1v1h-1zM223 11h1v1h-1zM228 11h1v1h-1zM232 11h1v1h-1zM237 11h1v1h-1zM242 11h1v1h-1zM244 11h1v1h-1zM249 11h3v1h-3zM337 11h1v1h-1zM343 11h1v1h-1zM347 11h1v1h-1zM349 11h1v1h-1zM353 11h1v1h-1zM355 11h1v1h-1zM359 11h1v1h-1zM361 11h1v1h-1zM365 11h1v1h-1zM368 11h1v1h-1zM372 11h1v1h-1zM403 11h1v1h-1zM407 11h1v1h-1zM410 11h7v1h-7zM422 11h1v1h-1zM464 11h1v1h-1zM466 11h1v1h-1zM509 11h1v1h-1zM515 11h1v1h-1zM519 11h1v1h-1zM567 11h1v1h-1zM572 11h7v1h-7zM580 11h2v1h-2zM583 11h2v1h-2zM7 12h1v1h-1zM23 12h1v1h-1zM28 12h1v1h-1zM31 12h1v1h-1zM37 12h1v1h-1zM40 12h1v1h-1zM45 12h1v1h-1zM49 12h1v1h-1zM62 12h1v1h-1zM67 12h1v1h-1zM84 12h1v1h-1zM88 12h1v1h-1zM93 12h1v1h-1zM96 12h1v1h-1zM102 12h1v1h-1zM106 12h1v1h-1zM109 12h1v1h-1zM117 12h1v1h-1zM130 12h1v1h-1zM142 12h1v1h-1zM146 12h1v1h-1zM152 12h1v1h-1zM156 12h1v1h-1zM169 12h1v1h-1zM176 12h1v1h-1zM182 12h1v1h-1zM190 12h1v1h-1zM194 12h1v1h-1zM209 12h1v1h-1zM223 12h1v1h-1zM228 12h1v1h-1zM232 12h1v1h-1zM237 12h1v1h-1zM242 12h1v1h-1zM244 12h1v1h-1zM252 12h1v1h-1zM337 12h1v1h-1zM342 12h6v1h-6zM349 12h1v1h-1zM353 12h1v1h-1zM355 12h5v1h-5zM361 12h1v1h-1zM365 12h1v1h-1zM367 12h1v1h-1zM372 12h1v1h-1zM403 12h1v1h-1zM407 12h1v1h-1zM423 12h1v1h-1zM463 12h6v1h-6zM509 12h1v1h-1zM515 12h1v1h-1zM519 12h1v1h-1zM567 12h1v1h-1zM582 12h1v1h-1zM584 12h1v1h-1zM1 13h1v1h-1zM7 13h1v1h-1zM23 13h1v1h-1zM28 13h1v1h-1zM31 13h1v1h-1zM37 13h1v1h-1zM40 13h1v1h-1zM45 13h1v1h-1zM49 13h1v1h-1zM62 13h1v1h-1zM68 13h1v1h-1zM84 13h1v1h-1zM88 13h1v1h-1zM93 13h1v1h-1zM97 13h1v1h-1zM102 13h1v1h-1zM106 13h1v1h-1zM109 13h1v1h-1zM114 13h1v1h-1zM118 13h1v1h-1zM123 13h1v1h-1zM125 13h1v1h-1zM131 13h1v1h-1zM142 13h1v1h-1zM147 13h1v1h-1zM152 13h1v1h-1zM156 13h1v1h-1zM169 13h1v1h-1zM177 13h1v1h-1zM182 13h1v1h-1zM185 13h1v1h-1zM190 13h1v1h-1zM194 13h1v1h-1zM209 13h1v1h-1zM223 13h1v1h-1zM228 13h1v1h-1zM232 13h1v1h-1zM237 13h1v1h-1zM243 13h1v1h-1zM248 13h1v1h-1zM253 13h1v1h-1zM337 13h1v1h-1zM343 13h1v1h-1zM347 13h1v1h-1zM349 13h1v1h-1zM353 13h1v1h-1zM355 13h1v1h-1zM359 13h1v1h-1zM361 13h1v1h-1zM365 13h1v1h-1zM368 13h1v1h-1zM372 13h1v1h-1zM403 13h1v1h-1zM407 13h1v1h-1zM418 13h1v1h-1zM422 13h1v1h-1zM466 13h1v1h-1zM505 13h1v1h-1zM509 13h1v1h-1zM515 13h1v1h-1zM519 13h1v1h-1zM566 13h1v1h-1zM580 13h1v1h-1zM584 13h1v1h-1zM2 14h5v1h-5zM23 14h1v1h-1zM28 14h1v1h-1zM32 14h5v1h-5zM41 14h5v1h-5zM49 14h1v1h-1zM62 14h1v1h-1zM69 14h1v1h-1zM84 14h1v1h-1zM88 14h1v1h-1zM93 14h1v1h-1zM98 14h5v1h-5zM106 14h1v1h-1zM110 14h4v1h-4zM119 14h4v1h-4zM126 14h5v1h-5zM142 14h1v1h-1zM148 14h4v1h-4zM156 14h1v1h-1zM169 14h7v1h-7zM178 14h5v1h-5zM186 14h5v1h-5zM195 14h2v1h-2zM208 14h1v1h-1zM224 14h5v1h-5zM233 14h5v1h-5zM243 14h1v1h-1zM248 14h5v1h-5zM337 14h5v1h-5zM344 14h3v1h-3zM350 14h4v1h-4zM356 14h3v1h-3zM361 14h1v1h-1zM365 14h1v1h-1zM368 14h5v1h-5zM374 14h2v1h-2zM404 14h3v1h-3zM418 14h5v1h-5zM466 14h1v1h-1zM505 14h4v1h-4zM512 14h1v1h-1zM516 14h3v1h-3zM566 14h1v1h-1zM581 14h3v1h-3zM242 15h1v1h-1zM353 15h1v1h-1zM512 15h1v1h-1zM242 16h1v1h-1zM352 16h1v1h-1zM512 16h1v1h-1zM241 17h1v1h-1zM350 17h3v1h-3zM239 18h2v1h-2zM29 19h3v1h-3zM28 20h1v1h-1zM31 20h1v1h-1zM28 21h1v1h-1zM32 21h1v1h-1zM28 22h1v1h-1zM31 22h2v1h-2zM29 23h4v1h-4zM28 24h1v1h-1zM31 24h1v1h-1zM28 25h4v1h-4zM28 28h4v1h-4zM28 29h1v1h-1zM32 29h1v1h-1zM28 30h2v1h-2zM31 30h1v1h-1zM28 31h5v1h-5zM28 32h1v1h-1zM32 32h1v1h-1zM28 33h1v1h-1zM32 33h1v1h-1zM28 34h5v1h-5zM28 39h5v1h-5zM31 40h1v1h-1zM31 41h1v1h-1zM30 42h1v1h-1zM30 43h1v1h-1zM29 44h1v1h-1zM29 45h1v1h-1zM29 51h4v1h-4zM7 52h1v1h-1zM28 52h1v1h-1zM7 53h1v1h-1zM28 53h4v1h-4zM7 54h1v1h-1zM28 54h1v1h-1zM32 54h1v1h-1zM7 55h6v1h-6zM28 55h1v1h-1zM32 55h1v1h-1zM28 56h2v1h-2zM31 56h2v1h-2zM30 57h1v1h-1zM8 58h2v1h-2zM11 58h1v1h-1zM7 59h1v1h-1zM9 59h1v1h-1zM12 59h1v1h-1zM7 60h1v1h-1zM9 60h1v1h-1zM12 60h1v1h-1zM7 61h1v1h-1zM9 61h1v1h-1zM12 61h1v1h-1zM8 62h4v1h-4zM28 62h4v1h-4zM28 63h1v1h-1zM28 64h4v1h-4zM4 65h9v1h-9zM28 65h1v1h-1zM32 65h1v1h-1zM7 66h1v1h-1zM12 66h1v1h-1zM32 66h1v1h-1zM7 67h1v1h-1zM12 67h1v1h-1zM28 67h1v1h-1zM32 67h1v1h-1zM7 68h1v1h-1zM12 68h1v1h-1zM28 68h4v1h-4zM7 69h2v1h-2zM11 69h2v1h-2zM9 70h2v1h-2zM4 72h9v1h-9zM31 73h1v1h-1zM30 74h2v1h-2zM7 75h6v1h-6zM29 75h1v1h-1zM31 75h1v1h-1zM11 76h1v1h-1zM29 76h1v1h-1zM31 76h1v1h-1zM12 77h1v1h-1zM28 77h5v1h-5zM12 78h1v1h-1zM31 78h1v1h-1zM12 79h1v1h-1zM31 79h1v1h-1zM7 80h5v1h-5zM9 82h2v1h-2zM7 83h2v1h-2zM11 83h2v1h-2zM7 84h1v1h-1zM12 84h1v1h-1zM7 85h1v1h-1zM12 85h1v1h-1zM28 85h5v1h-5zM7 86h1v1h-1zM12 86h1v1h-1zM31 86h1v1h-1zM8 87h4v1h-4zM30 87h2v1h-2zM32 88h1v1h-1zM6 89h2v1h-2zM10 89h2v1h-2zM32 89h1v1h-1zM5 90h1v1h-1zM7 90h3v1h-3zM12 90h1v1h-1zM28 90h1v1h-1zM31 90h2v1h-2zM4 91h1v1h-1zM8 91h1v1h-1zM12 91h1v1h-1zM29 91h2v1h-2zM4 92h1v1h-1zM8 92h1v1h-1zM12 92h1v1h-1zM4 93h1v1h-1zM8 93h1v1h-1zM12 93h1v1h-1zM4 94h1v1h-1zM8 94h1v1h-1zM12 94h1v1h-1zM4 95h9v1h-9zM28 96h4v1h-4zM28 97h1v1h-1zM32 97h1v1h-1zM31 98h2v1h-2zM31 99h1v1h-1zM30 100h1v1h-1zM29 101h1v1h-1zM28 102h5v1h-5zM30 107h1v1h-1zM29 108h2v1h-2zM30 109h1v1h-1zM30 110h1v1h-1zM30 111h1v1h-1zM30 112h1v1h-1zM30 113h1v1h-1zM30 115h1v1h-1zM28 116h2v1h-2zM31 116h2v1h-2zM28 117h1v1h-1zM32 117h1v1h-1zM28 118h1v1h-1zM32 118h1v1h-1zM28 119h1v1h-1zM32 119h1v1h-1zM28 120h1v1h-1zM32 120h1v1h-1zM29 121h3v1h-3zM30 131h1v1h-1zM28 132h2v1h-2zM31 132h1v1h-1zM28 133h1v1h-1zM32 133h1v1h-1zM28 134h1v1h-1zM31 134h2v1h-2zM29 135h4v1h-4zM31 136h1v1h-1zM28 137h4v1h-4zM28 140h4v1h-4zM28 141h1v1h-1zM32 141h1v1h-1zM28 142h2v1h-2zM31 142h2v1h-2zM29 143h3v1h-3zM7 144h9v1h-9zM28 144h1v1h-1zM32 144h1v1h-1zM7 145h1v1h-1zM12 145h1v1h-1zM15 145h1v1h-1zM28 145h1v1h-1zM32 145h1v1h-1zM7 146h1v1h-1zM12 146h1v1h-1zM15 146h1v1h-1zM28 146h5v1h-5zM7 147h1v1h-1zM12 147h1v1h-1zM15 147h1v1h-1zM8 148h4v1h-4zM7 150h1v1h-1zM7 151h1v1h-1zM28 151h5v1h-5zM7 152h2v1h-2zM32 152h1v1h-1zM7 153h6v1h-6zM31 153h1v1h-1zM31 154h1v1h-1zM30 155h1v1h-1zM7 156h6v1h-6zM30 156h1v1h-1zM12 157h1v1h-1zM29 157h1v1h-1zM12 158h1v1h-1zM29 158h1v1h-1zM12 159h1v1h-1zM7 160h6v1h-6zM8 163h4v1h-4zM29 163h3v1h-3zM7 164h1v1h-1zM12 164h1v1h-1zM28 164h1v1h-1zM32 164h1v1h-1zM7 165h1v1h-1zM12 165h1v1h-1zM28 165h4v1h-4zM7 166h1v1h-1zM12 166h1v1h-1zM28 166h1v1h-1zM32 166h1v1h-1zM4 167h9v1h-9zM28 167h1v1h-1zM32 167h1v1h-1zM28 168h1v1h-1zM32 168h1v1h-1zM29 169h3v1h-3zM7 170h2v1h-2zM10 170h3v1h-3zM7 171h1v1h-1zM10 171h1v1h-1zM12 171h1v1h-1zM7 172h1v1h-1zM10 172h1v1h-1zM12 172h1v1h-1zM7 173h1v1h-1zM9 173h1v1h-1zM12 173h1v1h-1zM7 174h3v1h-3zM11 174h2v1h-2zM28 174h4v1h-4zM28 175h1v1h-1zM7 176h1v1h-1zM12 176h1v1h-1zM28 176h4v1h-4zM8 177h1v1h-1zM10 177h2v1h-2zM28 177h1v1h-1zM32 177h1v1h-1zM9 178h1v1h-1zM32 178h1v1h-1zM10 179h1v1h-1zM28 179h1v1h-1zM32 179h1v1h-1zM4 180h9v1h-9zM28 180h4v1h-4zM7 183h2v1h-2zM11 183h2v1h-2zM7 184h1v1h-1zM12 184h1v1h-1zM7 185h1v1h-1zM12 185h1v1h-1zM31 185h1v1h-1zM7 186h1v1h-1zM12 186h1v1h-1zM30 186h2v1h-2zM8 187h4v1h-4zM30 187h2v1h-2zM29 188h1v1h-1zM31 188h1v1h-1zM4 189h1v1h-1zM29 189h1v1h-1zM31 189h1v1h-1zM4 190h2v1h-2zM7 190h6v1h-6zM28 190h5v1h-5zM31 191h1v1h-1zM7 192h1v1h-1zM31 192h1v1h-1zM7 193h1v1h-1zM7 194h2v1h-2zM7 195h6v1h-6zM9 197h1v1h-1zM11 197h1v1h-1zM28 197h5v1h-5zM7 198h3v1h-3zM12 198h1v1h-1zM31 198h1v1h-1zM7 199h1v1h-1zM9 199h1v1h-1zM12 199h1v1h-1zM30 199h2v1h-2zM7 200h1v1h-1zM9 200h1v1h-1zM12 200h1v1h-1zM32 200h1v1h-1zM7 201h1v1h-1zM9 201h1v1h-1zM12 201h1v1h-1zM32 201h1v1h-1zM8 202h4v1h-4zM28 202h1v1h-1zM32 202h1v1h-1zM28 203h4v1h-4zM4 205h9v1h-9zM7 206h1v1h-1zM12 206h1v1h-1zM7 207h1v1h-1zM12 207h1v1h-1zM7 208h1v1h-1zM12 208h1v1h-1zM29 208h3v1h-3zM8 209h4v1h-4zM28 209h1v1h-1zM31 209h2v1h-2zM28 210h1v1h-1zM31 210h2v1h-2zM9 211h1v1h-1zM11 211h1v1h-1zM31 211h1v1h-1zM7 212h3v1h-3zM12 212h1v1h-1zM30 212h1v1h-1zM7 213h1v1h-1zM9 213h1v1h-1zM12 213h1v1h-1zM29 213h1v1h-1zM7 214h1v1h-1zM9 214h1v1h-1zM12 214h1v1h-1zM28 214h5v1h-5zM7 215h1v1h-1zM9 215h1v1h-1zM12 215h1v1h-1zM8 216h4v1h-4zM7 218h1v1h-1zM7 219h1v1h-1zM30 219h1v1h-1zM8 220h1v1h-1zM29 220h2v1h-2zM7 221h6v1h-6zM29 221h2v1h-2zM4 222h1v1h-1zM30 222h1v1h-1zM4 223h1v1h-1zM30 223h1v1h-1zM4 224h1v1h-1zM8 224h1v1h-1zM30 224h1v1h-1zM4 225h1v1h-1zM8 225h1v1h-1zM30 225h1v1h-1zM4 226h1v1h-1zM8 226h1v1h-1zM30 226h1v1h-1zM4 227h9v1h-9zM30 227h1v1h-1zM29 228h1v1h-1zM31 228h1v1h-1zM28 229h1v1h-1zM32 229h1v1h-1zM28 230h1v1h-1zM32 230h1v1h-1zM28 231h1v1h-1zM32 231h1v1h-1zM28 232h1v1h-1zM32 232h1v1h-1zM29 233h1v1h-1zM31 233h1v1h-1zM30 234h1v1h-1zM30 243h1v1h-1zM28 244h2v1h-2zM31 244h1v1h-1zM28 245h1v1h-1zM32 245h1v1h-1zM28 246h1v1h-1zM31 246h2v1h-2zM29 247h4v1h-4zM31 248h1v1h-1zM28 249h1v1h-1zM31 249h1v1h-1zM29 250h2v1h-2zM29 252h2v1h-2zM28 253h1v1h-1zM31 253h2v1h-2zM28 254h1v1h-1zM31 254h2v1h-2zM29 255h3v1h-3zM28 256h1v1h-1zM32 256h1v1h-1zM28 257h1v1h-1zM32 257h1v1h-1zM28 258h5v1h-5zM7 259h2v1h-2zM9 260h2v1h-2zM11 261h2v1h-2zM10 262h2v1h-2zM13 262h2v1h-2zM8 263h2v1h-2zM15 263h1v1h-1zM7 264h1v1h-1zM15 264h1v1h-1zM28 264h5v1h-5zM7 265h1v1h-1zM31 265h1v1h-1zM7 266h1v1h-1zM31 266h1v1h-1zM7 267h2v1h-2zM30 267h1v1h-1zM7 268h6v1h-6zM30 268h1v1h-1zM29 269h1v1h-1zM29 270h1v1h-1zM7 271h6v1h-6zM7 272h1v1h-1zM12 272h1v1h-1zM7 273h1v1h-1zM12 273h1v1h-1zM7 274h1v1h-1zM12 274h1v1h-1zM8 275h4v1h-4zM29 275h3v1h-3zM28 276h1v1h-1zM32 276h1v1h-1zM12 277h1v1h-1zM28 277h1v1h-1zM30 277h1v1h-1zM7 278h1v1h-1zM12 278h1v1h-1zM28 278h2v1h-2zM31 278h2v1h-2zM4 279h9v1h-9zM28 279h1v1h-1zM32 279h1v1h-1zM7 280h1v1h-1zM28 280h1v1h-1zM32 280h1v1h-1zM29 281h3v1h-3zM9 282h1v1h-1zM11 282h1v1h-1zM7 283h3v1h-3zM12 283h1v1h-1zM7 284h1v1h-1zM9 284h1v1h-1zM12 284h1v1h-1zM7 285h1v1h-1zM9 285h1v1h-1zM12 285h1v1h-1zM7 286h3v1h-3zM11 286h2v1h-2zM28 286h4v1h-4zM9 287h2v1h-2zM28 287h1v1h-1zM28 288h3v1h-3zM8 289h5v1h-5zM28 289h1v1h-1zM31 289h2v1h-2zM7 290h1v1h-1zM32 290h1v1h-1zM7 291h1v1h-1zM28 291h1v1h-1zM32 291h1v1h-1zM7 292h1v1h-1zM28 292h5v1h-5zM8 293h1v1h-1zM7 294h6v1h-6zM7 297h6v1h-6zM7 298h1v1h-1zM12 298h1v1h-1zM31 298h1v1h-1zM7 299h1v1h-1zM12 299h1v1h-1zM30 299h2v1h-2zM7 300h1v1h-1zM12 300h1v1h-1zM29 300h1v1h-1zM31 300h1v1h-1zM8 301h4v1h-4zM29 301h1v1h-1zM31 301h1v1h-1zM28 302h5v1h-5zM31 303h1v1h-1zM4 304h9v1h-9zM31 304h1v1h-1zM5 307h4v1h-4zM4 308h1v1h-1zM9 308h1v1h-1zM4 309h1v1h-1zM9 309h1v1h-1zM28 309h5v1h-5zM4 310h1v1h-1zM9 310h1v1h-1zM31 310h1v1h-1zM4 311h1v1h-1zM9 311h1v1h-1zM30 311h2v1h-2zM4 312h9v1h-9zM31 312h2v1h-2zM32 313h1v1h-1zM28 314h1v1h-1zM32 314h1v1h-1zM28 315h4v1h-4zM29 320h2v1h-2zM12 321h1v1h-1zM28 321h2v1h-2zM31 321h2v1h-2zM12 322h1v1h-1zM28 322h1v1h-1zM32 322h1v1h-1zM31 323h1v1h-1zM7 324h1v1h-1zM12 324h1v1h-1zM31 324h1v1h-1zM7 325h1v1h-1zM12 325h1v1h-1zM29 325h2v1h-2zM4 326h8v1h-8zM28 326h5v1h-5zM7 327h1v1h-1zM7 329h2v1h-2zM10 329h3v1h-3zM7 330h1v1h-1zM10 330h1v1h-1zM12 330h1v1h-1zM7 331h1v1h-1zM10 331h1v1h-1zM12 331h1v1h-1zM7 332h1v1h-1zM9 332h1v1h-1zM12 332h1v1h-1zM30 332h1v1h-1zM7 333h3v1h-3zM11 333h2v1h-2zM29 333h2v1h-2zM30 334h1v1h-1zM4 335h1v1h-1zM12 335h1v1h-1zM30 335h1v1h-1zM4 336h1v1h-1zM12 336h1v1h-1zM30 336h1v1h-1zM4 337h1v1h-1zM8 337h1v1h-1zM12 337h1v1h-1zM30 337h1v1h-1zM4 338h1v1h-1zM8 338h1v1h-1zM12 338h1v1h-1zM30 338h1v1h-1zM4 339h1v1h-1zM8 339h1v1h-1zM12 339h1v1h-1zM4 340h9v1h-9zM29 340h3v1h-3zM28 341h1v1h-1zM32 341h1v1h-1zM28 342h1v1h-1zM32 342h1v1h-1zM28 343h1v1h-1zM32 343h1v1h-1zM28 344h1v1h-1zM32 344h1v1h-1zM28 345h1v1h-1zM32 345h1v1h-1zM29 346h3v1h-3zM29 356h3v1h-3zM28 357h1v1h-1zM31 357h1v1h-1zM28 358h1v1h-1zM32 358h1v1h-1zM28 359h2v1h-2zM31 359h2v1h-2zM30 360h2v1h-2zM28 361h1v1h-1zM31 361h1v1h-1zM28 362h4v1h-4zM28 365h5v1h-5zM28 366h1v1h-1zM32 366h1v1h-1zM28 367h4v1h-4zM28 368h1v1h-1zM32 368h1v1h-1zM28 369h1v1h-1zM32 369h1v1h-1zM28 370h1v1h-1zM31 370h2v1h-2zM29 371h2v1h-2zM28 376h5v1h-5zM31 377h1v1h-1zM31 378h1v1h-1zM30 379h1v1h-1zM30 380h1v1h-1zM29 381h1v1h-1zM29 382h1v1h-1zM8 387h2v1h-2zM11 387h1v1h-1zM29 387h3v1h-3zM7 388h1v1h-1zM9 388h1v1h-1zM12 388h1v1h-1zM28 388h1v1h-1zM32 388h1v1h-1zM7 389h1v1h-1zM9 389h1v1h-1zM12 389h1v1h-1zM28 389h1v1h-1zM7 390h1v1h-1zM9 390h1v1h-1zM12 390h1v1h-1zM28 390h5v1h-5zM8 391h2v1h-2zM11 391h1v1h-1zM28 391h1v1h-1zM32 391h1v1h-1zM9 392h2v1h-2zM28 392h1v1h-1zM32 392h1v1h-1zM29 393h3v1h-3zM7 394h7v1h-7zM7 395h1v1h-1zM12 395h1v1h-1zM14 395h2v1h-2zM7 396h1v1h-1zM12 396h1v1h-1zM15 396h1v1h-1zM7 397h1v1h-1zM12 397h1v1h-1zM15 397h1v1h-1zM7 398h2v1h-2zM11 398h2v1h-2zM15 398h1v1h-1zM9 399h2v1h-2zM28 399h4v1h-4zM28 400h1v1h-1zM8 401h2v1h-2zM11 401h1v1h-1zM28 401h5v1h-5zM7 402h1v1h-1zM9 402h1v1h-1zM12 402h1v1h-1zM32 402h1v1h-1zM7 403h1v1h-1zM9 403h1v1h-1zM12 403h1v1h-1zM32 403h1v1h-1zM7 404h1v1h-1zM9 404h1v1h-1zM12 404h1v1h-1zM28 404h1v1h-1zM31 404h2v1h-2zM7 405h3v1h-3zM11 405h2v1h-2zM29 405h2v1h-2zM9 406h2v1h-2zM4 408h9v1h-9zM31 410h1v1h-1zM4 411h9v1h-9zM30 411h2v1h-2zM29 412h1v1h-1zM31 412h1v1h-1zM29 413h1v1h-1zM31 413h1v1h-1zM8 414h4v1h-4zM28 414h5v1h-5zM7 415h1v1h-1zM12 415h1v1h-1zM31 415h1v1h-1zM7 416h1v1h-1zM12 416h1v1h-1zM31 416h1v1h-1zM7 417h1v1h-1zM12 417h1v1h-1zM7 418h1v1h-1zM12 418h1v1h-1zM8 419h4v1h-4zM6 421h1v1h-1zM10 421h1v1h-1zM28 421h5v1h-5zM5 422h1v1h-1zM11 422h2v1h-2zM31 422h1v1h-1zM4 423h1v1h-1zM12 423h1v1h-1zM31 423h1v1h-1zM4 424h1v1h-1zM12 424h1v1h-1zM30 424h3v1h-3zM4 425h2v1h-2zM12 425h1v1h-1zM32 425h1v1h-1zM5 426h1v1h-1zM11 426h1v1h-1zM28 426h1v1h-1zM32 426h1v1h-1zM6 427h5v1h-5zM28 427h4v1h-4zM28 433h4v1h-4zM28 434h1v1h-1zM32 434h1v1h-1zM31 435h1v1h-1zM31 436h1v1h-1zM30 437h1v1h-1zM29 438h1v1h-1zM28 439h5v1h-5zM30 444h1v1h-1zM29 445h2v1h-2zM30 446h1v1h-1zM30 447h1v1h-1zM30 448h1v1h-1zM30 449h1v1h-1zM30 450h1v1h-1zM29 452h3v1h-3zM28 453h1v1h-1zM32 453h1v1h-1zM28 454h1v1h-1zM32 454h1v1h-1zM28 455h1v1h-1zM32 455h1v1h-1zM28 456h1v1h-1zM32 456h1v1h-1zM28 457h1v1h-1zM32 457h1v1h-1zM29 458h3v1h-3zM18 465h1v1h-1zM23 465h1v1h-1zM45 465h1v1h-1zM50 465h5v1h-5zM94 465h1v1h-1zM99 465h1v1h-1zM121 465h2v1h-2zM129 465h1v1h-1zM170 465h1v1h-1zM176 465h1v1h-1zM197 465h2v1h-2zM203 465h4v1h-4zM246 465h1v1h-1zM252 465h1v1h-1zM273 465h2v1h-2zM280 465h2v1h-2zM323 465h1v1h-1zM328 465h1v1h-1zM350 465h1v1h-1zM354 465h6v1h-6zM399 465h1v1h-1zM404 465h1v1h-1zM426 465h2v1h-2zM432 465h3v1h-3zM475 465h1v1h-1zM481 465h1v1h-1zM502 465h2v1h-2zM509 465h1v1h-1zM552 465h1v1h-1zM557 465h1v1h-1zM579 465h1v1h-1zM585 465h2v1h-2zM18 466h1v1h-1zM23 466h1v1h-1zM44 466h1v1h-1zM46 466h1v1h-1zM53 466h1v1h-1zM94 466h1v1h-1zM99 466h1v1h-1zM120 466h1v1h-1zM123 466h1v1h-1zM128 466h2v1h-2zM170 466h1v1h-1zM176 466h1v1h-1zM196 466h1v1h-1zM199 466h1v1h-1zM203 466h1v1h-1zM246 466h1v1h-1zM252 466h1v1h-1zM272 466h1v1h-1zM275 466h1v1h-1zM279 466h1v1h-1zM282 466h2v1h-2zM323 466h1v1h-1zM328 466h1v1h-1zM349 466h1v1h-1zM351 466h1v1h-1zM359 466h1v1h-1zM399 466h1v1h-1zM404 466h1v1h-1zM425 466h1v1h-1zM428 466h1v1h-1zM431 466h1v1h-1zM435 466h1v1h-1zM475 466h1v1h-1zM481 466h1v1h-1zM501 466h1v1h-1zM504 466h1v1h-1zM507 466h2v1h-2zM510 466h2v1h-2zM552 466h1v1h-1zM557 466h1v1h-1zM578 466h2v1h-2zM584 466h1v1h-1zM587 466h1v1h-1zM18 467h2v1h-2zM22 467h2v1h-2zM43 467h1v1h-1zM47 467h1v1h-1zM53 467h1v1h-1zM94 467h2v1h-2zM98 467h2v1h-2zM119 467h1v1h-1zM123 467h1v1h-1zM128 467h2v1h-2zM170 467h2v1h-2zM175 467h2v1h-2zM195 467h1v1h-1zM199 467h1v1h-1zM202 467h1v1h-1zM246 467h2v1h-2zM251 467h2v1h-2zM272 467h1v1h-1zM276 467h1v1h-1zM279 467h1v1h-1zM323 467h2v1h-2zM327 467h2v1h-2zM348 467h1v1h-1zM352 467h1v1h-1zM358 467h1v1h-1zM399 467h2v1h-2zM403 467h2v1h-2zM424 467h1v1h-1zM428 467h1v1h-1zM431 467h1v1h-1zM435 467h1v1h-1zM475 467h2v1h-2zM480 467h2v1h-2zM501 467h1v1h-1zM505 467h1v1h-1zM507 467h1v1h-1zM511 467h1v1h-1zM552 467h2v1h-2zM556 467h2v1h-2zM578 467h2v1h-2zM584 467h1v1h-1zM588 467h1v1h-1zM18 468h2v1h-2zM22 468h2v1h-2zM26 468h4v1h-4zM31 468h1v1h-1zM35 468h1v1h-1zM43 468h1v1h-1zM47 468h1v1h-1zM52 468h2v1h-2zM94 468h2v1h-2zM98 468h2v1h-2zM103 468h4v1h-4zM108 468h1v1h-1zM112 468h1v1h-1zM119 468h1v1h-1zM124 468h1v1h-1zM127 468h1v1h-1zM129 468h1v1h-1zM170 468h2v1h-2zM175 468h2v1h-2zM179 468h4v1h-4zM184 468h1v1h-1zM188 468h1v1h-1zM195 468h1v1h-1zM200 468h1v1h-1zM202 468h5v1h-5zM246 468h2v1h-2zM251 468h2v1h-2zM255 468h4v1h-4zM260 468h1v1h-1zM264 468h1v1h-1zM271 468h1v1h-1zM276 468h1v1h-1zM278 468h5v1h-5zM323 468h2v1h-2zM327 468h2v1h-2zM331 468h5v1h-5zM337 468h1v1h-1zM341 468h1v1h-1zM348 468h1v1h-1zM352 468h1v1h-1zM358 468h1v1h-1zM399 468h2v1h-2zM403 468h2v1h-2zM408 468h4v1h-4zM413 468h1v1h-1zM417 468h1v1h-1zM424 468h1v1h-1zM429 468h1v1h-1zM431 468h5v1h-5zM475 468h2v1h-2zM480 468h2v1h-2zM484 468h4v1h-4zM489 468h1v1h-1zM493 468h1v1h-1zM500 468h1v1h-1zM505 468h1v1h-1zM507 468h1v1h-1zM511 468h1v1h-1zM552 468h2v1h-2zM556 468h2v1h-2zM560 468h4v1h-4zM565 468h1v1h-1zM569 468h1v1h-1zM579 468h1v1h-1zM583 468h1v1h-1zM588 468h1v1h-1zM18 469h2v1h-2zM21 469h1v1h-1zM23 469h1v1h-1zM26 469h1v1h-1zM29 469h1v1h-1zM32 469h1v1h-1zM34 469h1v1h-1zM43 469h1v1h-1zM47 469h1v1h-1zM54 469h1v1h-1zM94 469h1v1h-1zM96 469h1v1h-1zM98 469h2v1h-2zM102 469h1v1h-1zM106 469h1v1h-1zM109 469h1v1h-1zM111 469h1v1h-1zM119 469h1v1h-1zM124 469h1v1h-1zM127 469h1v1h-1zM129 469h1v1h-1zM170 469h1v1h-1zM172 469h1v1h-1zM174 469h1v1h-1zM176 469h1v1h-1zM178 469h1v1h-1zM182 469h1v1h-1zM185 469h1v1h-1zM187 469h1v1h-1zM195 469h1v1h-1zM200 469h1v1h-1zM206 469h1v1h-1zM246 469h1v1h-1zM248 469h1v1h-1zM250 469h1v1h-1zM252 469h1v1h-1zM255 469h1v1h-1zM258 469h1v1h-1zM261 469h1v1h-1zM263 469h1v1h-1zM271 469h1v1h-1zM276 469h1v1h-1zM278 469h2v1h-2zM283 469h1v1h-1zM323 469h2v1h-2zM326 469h1v1h-1zM328 469h1v1h-1zM331 469h1v1h-1zM335 469h1v1h-1zM338 469h1v1h-1zM340 469h1v1h-1zM348 469h1v1h-1zM352 469h1v1h-1zM357 469h1v1h-1zM399 469h1v1h-1zM401 469h1v1h-1zM403 469h2v1h-2zM407 469h1v1h-1zM411 469h1v1h-1zM414 469h1v1h-1zM416 469h1v1h-1zM424 469h1v1h-1zM429 469h1v1h-1zM431 469h2v1h-2zM434 469h2v1h-2zM475 469h1v1h-1zM477 469h1v1h-1zM479 469h1v1h-1zM481 469h1v1h-1zM483 469h1v1h-1zM487 469h1v1h-1zM490 469h1v1h-1zM492 469h1v1h-1zM500 469h1v1h-1zM505 469h1v1h-1zM507 469h2v1h-2zM510 469h2v1h-2zM552 469h2v1h-2zM555 469h1v1h-1zM557 469h1v1h-1zM560 469h1v1h-1zM563 469h1v1h-1zM566 469h1v1h-1zM568 469h1v1h-1zM579 469h1v1h-1zM583 469h1v1h-1zM588 469h1v1h-1zM18 470h2v1h-2zM21 470h1v1h-1zM23 470h1v1h-1zM25 470h1v1h-1zM29 470h1v1h-1zM32 470h1v1h-1zM34 470h1v1h-1zM43 470h1v1h-1zM47 470h1v1h-1zM54 470h1v1h-1zM94 470h1v1h-1zM96 470h1v1h-1zM98 470h2v1h-2zM102 470h1v1h-1zM106 470h1v1h-1zM109 470h1v1h-1zM111 470h1v1h-1zM119 470h1v1h-1zM124 470h1v1h-1zM126 470h6v1h-6zM170 470h1v1h-1zM172 470h1v1h-1zM174 470h1v1h-1zM176 470h1v1h-1zM178 470h1v1h-1zM182 470h1v1h-1zM185 470h1v1h-1zM187 470h1v1h-1zM195 470h1v1h-1zM200 470h1v1h-1zM207 470h1v1h-1zM246 470h1v1h-1zM248 470h1v1h-1zM250 470h1v1h-1zM252 470h1v1h-1zM254 470h1v1h-1zM258 470h1v1h-1zM261 470h1v1h-1zM263 470h1v1h-1zM272 470h1v1h-1zM276 470h1v1h-1zM278 470h1v1h-1zM283 470h1v1h-1zM323 470h2v1h-2zM326 470h1v1h-1zM328 470h1v1h-1zM330 470h1v1h-1zM335 470h1v1h-1zM338 470h1v1h-1zM340 470h1v1h-1zM348 470h1v1h-1zM352 470h1v1h-1zM357 470h1v1h-1zM399 470h1v1h-1zM401 470h1v1h-1zM403 470h2v1h-2zM407 470h1v1h-1zM411 470h1v1h-1zM414 470h1v1h-1zM416 470h1v1h-1zM424 470h1v1h-1zM429 470h1v1h-1zM431 470h1v1h-1zM435 470h1v1h-1zM475 470h1v1h-1zM477 470h1v1h-1zM479 470h1v1h-1zM481 470h1v1h-1zM483 470h1v1h-1zM487 470h1v1h-1zM490 470h1v1h-1zM492 470h1v1h-1zM501 470h1v1h-1zM505 470h1v1h-1zM509 470h1v1h-1zM511 470h1v1h-1zM552 470h2v1h-2zM555 470h1v1h-1zM557 470h1v1h-1zM559 470h1v1h-1zM563 470h1v1h-1zM566 470h1v1h-1zM568 470h1v1h-1zM579 470h1v1h-1zM584 470h1v1h-1zM588 470h1v1h-1zM18 471h1v1h-1zM20 471h1v1h-1zM23 471h1v1h-1zM26 471h1v1h-1zM29 471h1v1h-1zM33 471h1v1h-1zM43 471h1v1h-1zM47 471h1v1h-1zM49 471h1v1h-1zM54 471h1v1h-1zM94 471h1v1h-1zM97 471h1v1h-1zM99 471h1v1h-1zM102 471h1v1h-1zM106 471h1v1h-1zM110 471h1v1h-1zM119 471h1v1h-1zM123 471h1v1h-1zM129 471h1v1h-1zM170 471h1v1h-1zM173 471h1v1h-1zM176 471h1v1h-1zM178 471h1v1h-1zM182 471h1v1h-1zM186 471h1v1h-1zM195 471h1v1h-1zM199 471h1v1h-1zM202 471h1v1h-1zM206 471h1v1h-1zM246 471h1v1h-1zM249 471h1v1h-1zM252 471h1v1h-1zM255 471h1v1h-1zM258 471h1v1h-1zM262 471h1v1h-1zM272 471h1v1h-1zM276 471h1v1h-1zM279 471h1v1h-1zM283 471h1v1h-1zM323 471h1v1h-1zM325 471h1v1h-1zM328 471h1v1h-1zM331 471h1v1h-1zM335 471h1v1h-1zM339 471h1v1h-1zM348 471h1v1h-1zM352 471h1v1h-1zM356 471h1v1h-1zM399 471h1v1h-1zM402 471h1v1h-1zM404 471h1v1h-1zM407 471h1v1h-1zM411 471h1v1h-1zM415 471h1v1h-1zM424 471h1v1h-1zM428 471h1v1h-1zM431 471h1v1h-1zM435 471h1v1h-1zM475 471h1v1h-1zM478 471h1v1h-1zM481 471h1v1h-1zM483 471h1v1h-1zM487 471h1v1h-1zM491 471h1v1h-1zM501 471h1v1h-1zM505 471h1v1h-1zM507 471h1v1h-1zM511 471h1v1h-1zM552 471h1v1h-1zM554 471h1v1h-1zM557 471h1v1h-1zM560 471h1v1h-1zM563 471h1v1h-1zM567 471h1v1h-1zM579 471h1v1h-1zM584 471h1v1h-1zM588 471h1v1h-1zM18 472h1v1h-1zM20 472h1v1h-1zM23 472h1v1h-1zM26 472h4v1h-4zM33 472h1v1h-1zM44 472h3v1h-3zM50 472h4v1h-4zM94 472h1v1h-1zM97 472h1v1h-1zM99 472h1v1h-1zM103 472h4v1h-4zM110 472h1v1h-1zM120 472h4v1h-4zM129 472h1v1h-1zM170 472h1v1h-1zM173 472h1v1h-1zM176 472h1v1h-1zM179 472h4v1h-4zM186 472h1v1h-1zM196 472h4v1h-4zM202 472h5v1h-5zM246 472h1v1h-1zM249 472h1v1h-1zM252 472h1v1h-1zM255 472h4v1h-4zM262 472h1v1h-1zM272 472h4v1h-4zM279 472h4v1h-4zM323 472h1v1h-1zM325 472h1v1h-1zM328 472h1v1h-1zM331 472h5v1h-5zM339 472h1v1h-1zM349 472h3v1h-3zM356 472h1v1h-1zM399 472h1v1h-1zM402 472h1v1h-1zM404 472h1v1h-1zM408 472h4v1h-4zM415 472h1v1h-1zM425 472h4v1h-4zM431 472h5v1h-5zM475 472h1v1h-1zM478 472h1v1h-1zM481 472h1v1h-1zM484 472h4v1h-4zM491 472h1v1h-1zM501 472h4v1h-4zM508 472h3v1h-3zM552 472h1v1h-1zM554 472h1v1h-1zM557 472h1v1h-1zM560 472h4v1h-4zM567 472h1v1h-1zM579 472h1v1h-1zM584 472h4v1h-4zM33 473h1v1h-1zM109 473h1v1h-1zM185 473h1v1h-1zM262 473h1v1h-1zM338 473h1v1h-1zM414 473h1v1h-1zM490 473h1v1h-1zM567 473h1v1h-1zM33 474h1v1h-1zM109 474h1v1h-1zM185 474h1v1h-1zM262 474h1v1h-1zM338 474h1v1h-1zM414 474h1v1h-1zM490 474h1v1h-1zM567 474h1v1h-1zM31 475h2v1h-2zM107 475h2v1h-2zM184 475h2v1h-2zM260 475h2v1h-2zM336 475h2v1h-2zM412 475h2v1h-2zM489 475h2v1h-2zM565 475h2v1h-2zM376 478h1v1h-1zM403 478h1v1h-1zM231 479h1v1h-1zM287 479h1v1h-1zM343 479h1v1h-1zM375 479h1v1h-1zM404 479h1v1h-1zM194 480h5v1h-5zM228 480h1v1h-1zM231 480h2v1h-2zM251 480h1v1h-1zM270 480h1v1h-1zM276 480h1v1h-1zM287 480h2v1h-2zM326 480h1v1h-1zM335 480h9v1h-9zM374 480h1v1h-1zM379 480h1v1h-1zM385 480h1v1h-1zM387 480h7v1h-7zM396 480h5v1h-5zM405 480h1v1h-1zM193 481h1v1h-1zM198 481h1v1h-1zM228 481h1v1h-1zM251 481h1v1h-1zM270 481h1v1h-1zM276 481h1v1h-1zM326 481h1v1h-1zM338 481h1v1h-1zM373 481h1v1h-1zM379 481h1v1h-1zM385 481h1v1h-1zM390 481h1v1h-1zM395 481h1v1h-1zM400 481h1v1h-1zM406 481h1v1h-1zM193 482h1v1h-1zM199 482h1v1h-1zM228 482h1v1h-1zM251 482h1v1h-1zM270 482h1v1h-1zM276 482h1v1h-1zM326 482h1v1h-1zM338 482h1v1h-1zM373 482h1v1h-1zM379 482h1v1h-1zM385 482h1v1h-1zM390 482h1v1h-1zM395 482h1v1h-1zM401 482h1v1h-1zM406 482h1v1h-1zM193 483h1v1h-1zM203 483h4v1h-4zM211 483h4v1h-4zM218 483h4v1h-4zM224 483h5v1h-5zM231 483h1v1h-1zM235 483h5v1h-5zM244 483h4v1h-4zM250 483h4v1h-4zM257 483h4v1h-4zM270 483h1v1h-1zM276 483h1v1h-1zM279 483h6v1h-6zM287 483h1v1h-1zM290 483h1v1h-1zM295 483h1v1h-1zM298 483h4v1h-4zM305 483h5v1h-5zM311 483h4v1h-4zM319 483h4v1h-4zM326 483h1v1h-1zM338 483h1v1h-1zM343 483h1v1h-1zM346 483h5v1h-5zM352 483h4v1h-4zM360 483h3v1h-3zM373 483h1v1h-1zM379 483h1v1h-1zM385 483h1v1h-1zM390 483h1v1h-1zM395 483h1v1h-1zM406 483h1v1h-1zM193 484h1v1h-1zM202 484h1v1h-1zM206 484h1v1h-1zM210 484h1v1h-1zM214 484h1v1h-1zM218 484h1v1h-1zM223 484h1v1h-1zM228 484h1v1h-1zM231 484h1v1h-1zM235 484h1v1h-1zM239 484h1v1h-1zM243 484h1v1h-1zM247 484h1v1h-1zM251 484h1v1h-1zM256 484h1v1h-1zM260 484h1v1h-1zM270 484h1v1h-1zM276 484h1v1h-1zM279 484h1v1h-1zM284 484h1v1h-1zM287 484h1v1h-1zM290 484h1v1h-1zM294 484h1v1h-1zM298 484h1v1h-1zM302 484h1v1h-1zM305 484h2v1h-2zM310 484h1v1h-1zM315 484h1v1h-1zM318 484h1v1h-1zM322 484h1v1h-1zM326 484h1v1h-1zM338 484h1v1h-1zM343 484h1v1h-1zM346 484h1v1h-1zM351 484h1v1h-1zM355 484h1v1h-1zM359 484h1v1h-1zM363 484h1v1h-1zM373 484h1v1h-1zM379 484h1v1h-1zM385 484h1v1h-1zM390 484h1v1h-1zM395 484h1v1h-1zM406 484h1v1h-1zM193 485h1v1h-1zM201 485h1v1h-1zM207 485h1v1h-1zM209 485h1v1h-1zM215 485h1v1h-1zM218 485h1v1h-1zM223 485h1v1h-1zM228 485h1v1h-1zM231 485h1v1h-1zM235 485h1v1h-1zM239 485h1v1h-1zM242 485h1v1h-1zM247 485h1v1h-1zM251 485h1v1h-1zM255 485h6v1h-6zM270 485h1v1h-1zM276 485h1v1h-1zM279 485h1v1h-1zM284 485h1v1h-1zM287 485h1v1h-1zM291 485h1v1h-1zM294 485h1v1h-1zM297 485h6v1h-6zM305 485h1v1h-1zM311 485h2v1h-2zM317 485h1v1h-1zM322 485h1v1h-1zM326 485h1v1h-1zM338 485h1v1h-1zM343 485h1v1h-1zM346 485h1v1h-1zM351 485h1v1h-1zM355 485h1v1h-1zM358 485h6v1h-6zM373 485h1v1h-1zM379 485h1v1h-1zM385 485h1v1h-1zM390 485h1v1h-1zM395 485h1v1h-1zM406 485h1v1h-1zM193 486h1v1h-1zM201 486h1v1h-1zM207 486h1v1h-1zM209 486h1v1h-1zM215 486h1v1h-1zM218 486h1v1h-1zM223 486h1v1h-1zM228 486h1v1h-1zM231 486h1v1h-1zM235 486h1v1h-1zM239 486h1v1h-1zM242 486h1v1h-1zM247 486h1v1h-1zM251 486h1v1h-1zM255 486h1v1h-1zM270 486h1v1h-1zM276 486h1v1h-1zM279 486h1v1h-1zM284 486h1v1h-1zM287 486h1v1h-1zM291 486h1v1h-1zM293 486h1v1h-1zM297 486h1v1h-1zM305 486h1v1h-1zM313 486h2v1h-2zM317 486h1v1h-1zM322 486h1v1h-1zM326 486h1v1h-1zM338 486h1v1h-1zM343 486h1v1h-1zM346 486h1v1h-1zM351 486h1v1h-1zM355 486h1v1h-1zM358 486h1v1h-1zM373 486h1v1h-1zM379 486h1v1h-1zM385 486h1v1h-1zM390 486h1v1h-1zM395 486h1v1h-1zM406 486h1v1h-1zM193 487h1v1h-1zM198 487h2v1h-2zM202 487h1v1h-1zM206 487h1v1h-1zM210 487h1v1h-1zM214 487h1v1h-1zM218 487h1v1h-1zM223 487h1v1h-1zM228 487h1v1h-1zM231 487h1v1h-1zM235 487h1v1h-1zM239 487h1v1h-1zM243 487h1v1h-1zM247 487h1v1h-1zM251 487h1v1h-1zM256 487h1v1h-1zM260 487h1v1h-1zM271 487h1v1h-1zM276 487h1v1h-1zM279 487h1v1h-1zM284 487h1v1h-1zM287 487h1v1h-1zM291 487h1v1h-1zM293 487h1v1h-1zM298 487h1v1h-1zM302 487h1v1h-1zM305 487h1v1h-1zM310 487h1v1h-1zM315 487h1v1h-1zM318 487h1v1h-1zM322 487h1v1h-1zM326 487h1v1h-1zM338 487h1v1h-1zM343 487h1v1h-1zM346 487h1v1h-1zM351 487h1v1h-1zM355 487h1v1h-1zM359 487h1v1h-1zM363 487h1v1h-1zM373 487h1v1h-1zM379 487h1v1h-1zM384 487h1v1h-1zM390 487h1v1h-1zM395 487h1v1h-1zM400 487h2v1h-2zM406 487h1v1h-1zM194 488h1v1h-1zM198 488h1v1h-1zM203 488h1v1h-1zM206 488h1v1h-1zM211 488h1v1h-1zM214 488h1v1h-1zM218 488h1v1h-1zM224 488h1v1h-1zM227 488h2v1h-2zM231 488h1v1h-1zM235 488h1v1h-1zM239 488h1v1h-1zM244 488h1v1h-1zM247 488h1v1h-1zM252 488h1v1h-1zM257 488h1v1h-1zM260 488h1v1h-1zM271 488h1v1h-1zM275 488h1v1h-1zM279 488h1v1h-1zM284 488h1v1h-1zM287 488h1v1h-1zM292 488h1v1h-1zM298 488h1v1h-1zM301 488h1v1h-1zM305 488h1v1h-1zM311 488h1v1h-1zM314 488h1v1h-1zM319 488h1v1h-1zM322 488h1v1h-1zM326 488h1v1h-1zM338 488h1v1h-1zM343 488h1v1h-1zM346 488h1v1h-1zM351 488h1v1h-1zM355 488h1v1h-1zM360 488h1v1h-1zM362 488h1v1h-1zM373 488h1v1h-1zM380 488h1v1h-1zM383 488h2v1h-2zM390 488h1v1h-1zM396 488h1v1h-1zM400 488h1v1h-1zM406 488h1v1h-1zM195 489h3v1h-3zM204 489h2v1h-2zM212 489h2v1h-2zM218 489h1v1h-1zM225 489h2v1h-2zM228 489h1v1h-1zM231 489h1v1h-1zM235 489h1v1h-1zM239 489h1v1h-1zM244 489h4v1h-4zM252 489h2v1h-2zM257 489h3v1h-3zM272 489h3v1h-3zM279 489h1v1h-1zM284 489h1v1h-1zM287 489h1v1h-1zM292 489h1v1h-1zM299 489h2v1h-2zM305 489h1v1h-1zM312 489h2v1h-2zM319 489h4v1h-4zM326 489h1v1h-1zM338 489h1v1h-1zM343 489h1v1h-1zM346 489h1v1h-1zM351 489h1v1h-1zM355 489h1v1h-1zM360 489h3v1h-3zM374 489h1v1h-1zM381 489h2v1h-2zM390 489h1v1h-1zM397 489h3v1h-3zM405 489h1v1h-1zM374 490h1v1h-1zM405 490h1v1h-1zM375 491h1v1h-1zM404 491h1v1h-1zM376 492h1v1h-1zM403 492h1v1h-1zM446 493h1v1h-1zM445 494h1v1h-1zM1 495h4v1h-4zM7 495h3v1h-3zM24 495h3v1h-3zM38 495h2v1h-2zM55 495h3v1h-3zM68 495h5v1h-5zM77 495h4v1h-4zM85 495h4v1h-4zM94 495h4v1h-4zM108 495h1v1h-1zM115 495h1v1h-1zM147 495h4v1h-4zM162 495h5v1h-5zM173 495h1v1h-1zM179 495h5v1h-5zM188 495h4v1h-4zM405 495h1v1h-1zM411 495h1v1h-1zM416 495h4v1h-4zM426 495h1v1h-1zM433 495h1v1h-1zM445 495h1v1h-1zM448 495h6v1h-6zM456 495h1v1h-1zM460 495h1v1h-1zM464 495h1v1h-1zM467 495h6v1h-6zM477 495h4v1h-4zM491 495h6v1h-6zM516 495h1v1h-1zM524 495h1v1h-1zM553 495h4v1h-4zM561 495h5v1h-5zM576 495h1v1h-1zM582 495h1v1h-1zM586 495h5v1h-5zM596 495h1v1h-1zM2 496h2v1h-2zM8 496h1v1h-1zM25 496h2v1h-2zM38 496h2v1h-2zM56 496h2v1h-2zM68 496h1v1h-1zM72 496h1v1h-1zM76 496h1v1h-1zM80 496h1v1h-1zM85 496h1v1h-1zM89 496h1v1h-1zM93 496h1v1h-1zM97 496h1v1h-1zM108 496h1v1h-1zM115 496h1v1h-1zM146 496h1v1h-1zM151 496h1v1h-1zM162 496h1v1h-1zM166 496h1v1h-1zM172 496h2v1h-2zM182 496h1v1h-1zM187 496h1v1h-1zM191 496h1v1h-1zM405 496h2v1h-2zM411 496h1v1h-1zM415 496h1v1h-1zM420 496h1v1h-1zM426 496h1v1h-1zM433 496h1v1h-1zM444 496h1v1h-1zM448 496h1v1h-1zM454 496h1v1h-1zM456 496h1v1h-1zM460 496h1v1h-1zM464 496h1v1h-1zM467 496h1v1h-1zM472 496h1v1h-1zM476 496h1v1h-1zM481 496h1v1h-1zM491 496h1v1h-1zM497 496h1v1h-1zM516 496h1v1h-1zM524 496h1v1h-1zM552 496h1v1h-1zM557 496h1v1h-1zM561 496h1v1h-1zM566 496h1v1h-1zM576 496h1v1h-1zM582 496h1v1h-1zM585 496h1v1h-1zM591 496h1v1h-1zM596 496h1v1h-1zM2 497h2v1h-2zM8 497h1v1h-1zM25 497h2v1h-2zM38 497h2v1h-2zM56 497h2v1h-2zM67 497h1v1h-1zM72 497h1v1h-1zM76 497h1v1h-1zM81 497h1v1h-1zM84 497h1v1h-1zM89 497h1v1h-1zM93 497h1v1h-1zM98 497h1v1h-1zM108 497h2v1h-2zM114 497h2v1h-2zM146 497h1v1h-1zM151 497h1v1h-1zM161 497h1v1h-1zM166 497h1v1h-1zM171 497h1v1h-1zM173 497h1v1h-1zM182 497h1v1h-1zM187 497h1v1h-1zM192 497h1v1h-1zM405 497h2v1h-2zM411 497h1v1h-1zM414 497h1v1h-1zM420 497h1v1h-1zM425 497h1v1h-1zM427 497h1v1h-1zM432 497h1v1h-1zM434 497h1v1h-1zM444 497h1v1h-1zM448 497h1v1h-1zM456 497h1v1h-1zM460 497h1v1h-1zM464 497h1v1h-1zM467 497h1v1h-1zM473 497h1v1h-1zM475 497h1v1h-1zM481 497h1v1h-1zM491 497h1v1h-1zM497 497h1v1h-1zM516 497h1v1h-1zM524 497h1v1h-1zM551 497h1v1h-1zM557 497h1v1h-1zM560 497h1v1h-1zM566 497h1v1h-1zM576 497h1v1h-1zM582 497h1v1h-1zM585 497h1v1h-1zM595 497h1v1h-1zM597 497h1v1h-1zM2 498h2v1h-2zM8 498h1v1h-1zM11 498h6v1h-6zM21 498h6v1h-6zM29 498h6v1h-6zM37 498h5v1h-5zM45 498h5v1h-5zM53 498h5v1h-5zM72 498h1v1h-1zM75 498h1v1h-1zM81 498h1v1h-1zM89 498h1v1h-1zM97 498h1v1h-1zM108 498h2v1h-2zM114 498h2v1h-2zM119 498h5v1h-5zM125 498h1v1h-1zM130 498h1v1h-1zM146 498h1v1h-1zM151 498h1v1h-1zM166 498h1v1h-1zM173 498h1v1h-1zM181 498h2v1h-2zM186 498h1v1h-1zM192 498h1v1h-1zM405 498h1v1h-1zM407 498h1v1h-1zM411 498h1v1h-1zM414 498h1v1h-1zM421 498h1v1h-1zM425 498h1v1h-1zM427 498h1v1h-1zM432 498h1v1h-1zM434 498h1v1h-1zM443 498h1v1h-1zM448 498h1v1h-1zM457 498h1v1h-1zM459 498h1v1h-1zM461 498h1v1h-1zM463 498h1v1h-1zM467 498h1v1h-1zM473 498h1v1h-1zM475 498h1v1h-1zM491 498h1v1h-1zM497 498h1v1h-1zM501 498h4v1h-4zM508 498h1v1h-1zM513 498h1v1h-1zM516 498h1v1h-1zM520 498h5v1h-5zM528 498h4v1h-4zM535 498h4v1h-4zM551 498h1v1h-1zM560 498h1v1h-1zM567 498h1v1h-1zM576 498h1v1h-1zM582 498h1v1h-1zM586 498h1v1h-1zM595 498h1v1h-1zM597 498h1v1h-1zM2 499h2v1h-2zM8 499h1v1h-1zM12 499h2v1h-2zM17 499h1v1h-1zM21 499h1v1h-1zM25 499h2v1h-2zM29 499h2v1h-2zM33 499h2v1h-2zM38 499h2v1h-2zM44 499h2v1h-2zM48 499h2v1h-2zM52 499h2v1h-2zM56 499h2v1h-2zM71 499h1v1h-1zM75 499h1v1h-1zM81 499h1v1h-1zM88 499h1v1h-1zM96 499h1v1h-1zM108 499h2v1h-2zM113 499h1v1h-1zM115 499h1v1h-1zM118 499h1v1h-1zM123 499h1v1h-1zM126 499h1v1h-1zM130 499h1v1h-1zM146 499h1v1h-1zM151 499h1v1h-1zM165 499h1v1h-1zM173 499h1v1h-1zM183 499h1v1h-1zM186 499h1v1h-1zM192 499h1v1h-1zM405 499h1v1h-1zM408 499h1v1h-1zM411 499h1v1h-1zM414 499h1v1h-1zM421 499h1v1h-1zM424 499h1v1h-1zM427 499h1v1h-1zM432 499h1v1h-1zM435 499h1v1h-1zM443 499h1v1h-1zM449 499h4v1h-4zM457 499h1v1h-1zM459 499h1v1h-1zM461 499h1v1h-1zM463 499h1v1h-1zM467 499h6v1h-6zM475 499h1v1h-1zM491 499h6v1h-6zM500 499h1v1h-1zM505 499h1v1h-1zM508 499h1v1h-1zM513 499h1v1h-1zM516 499h1v1h-1zM519 499h1v1h-1zM524 499h1v1h-1zM527 499h1v1h-1zM532 499h1v1h-1zM535 499h1v1h-1zM551 499h1v1h-1zM560 499h1v1h-1zM567 499h1v1h-1zM576 499h1v1h-1zM582 499h1v1h-1zM587 499h3v1h-3zM595 499h1v1h-1zM597 499h1v1h-1zM2 500h2v1h-2zM8 500h1v1h-1zM12 500h2v1h-2zM17 500h2v1h-2zM20 500h2v1h-2zM25 500h2v1h-2zM33 500h2v1h-2zM38 500h2v1h-2zM44 500h6v1h-6zM52 500h2v1h-2zM56 500h2v1h-2zM70 500h1v1h-1zM75 500h1v1h-1zM81 500h1v1h-1zM87 500h1v1h-1zM95 500h1v1h-1zM108 500h1v1h-1zM110 500h1v1h-1zM113 500h1v1h-1zM115 500h1v1h-1zM118 500h1v1h-1zM123 500h1v1h-1zM126 500h1v1h-1zM129 500h1v1h-1zM147 500h5v1h-5zM164 500h1v1h-1zM173 500h1v1h-1zM184 500h1v1h-1zM186 500h1v1h-1zM192 500h1v1h-1zM405 500h1v1h-1zM408 500h1v1h-1zM411 500h1v1h-1zM414 500h1v1h-1zM421 500h1v1h-1zM424 500h1v1h-1zM428 500h1v1h-1zM431 500h1v1h-1zM435 500h1v1h-1zM442 500h1v1h-1zM453 500h1v1h-1zM457 500h1v1h-1zM459 500h1v1h-1zM461 500h1v1h-1zM463 500h1v1h-1zM467 500h1v1h-1zM475 500h1v1h-1zM491 500h1v1h-1zM497 500h1v1h-1zM500 500h1v1h-1zM505 500h1v1h-1zM508 500h1v1h-1zM513 500h1v1h-1zM516 500h1v1h-1zM519 500h1v1h-1zM524 500h1v1h-1zM527 500h6v1h-6zM535 500h1v1h-1zM551 500h1v1h-1zM560 500h1v1h-1zM567 500h1v1h-1zM576 500h1v1h-1zM582 500h1v1h-1zM590 500h2v1h-2zM594 500h1v1h-1zM598 500h1v1h-1zM2 501h2v1h-2zM8 501h1v1h-1zM12 501h2v1h-2zM17 501h2v1h-2zM20 501h2v1h-2zM25 501h2v1h-2zM29 501h6v1h-6zM38 501h2v1h-2zM44 501h2v1h-2zM52 501h2v1h-2zM56 501h2v1h-2zM69 501h1v1h-1zM76 501h1v1h-1zM81 501h1v1h-1zM86 501h1v1h-1zM94 501h1v1h-1zM108 501h1v1h-1zM110 501h1v1h-1zM112 501h1v1h-1zM115 501h1v1h-1zM118 501h1v1h-1zM123 501h1v1h-1zM127 501h1v1h-1zM129 501h1v1h-1zM151 501h1v1h-1zM163 501h1v1h-1zM173 501h1v1h-1zM184 501h1v1h-1zM187 501h1v1h-1zM192 501h1v1h-1zM405 501h1v1h-1zM409 501h1v1h-1zM411 501h1v1h-1zM414 501h1v1h-1zM421 501h1v1h-1zM423 501h6v1h-6zM431 501h6v1h-6zM441 501h1v1h-1zM454 501h1v1h-1zM457 501h1v1h-1zM459 501h1v1h-1zM461 501h1v1h-1zM463 501h1v1h-1zM467 501h1v1h-1zM475 501h1v1h-1zM491 501h1v1h-1zM497 501h1v1h-1zM500 501h1v1h-1zM505 501h1v1h-1zM508 501h1v1h-1zM513 501h1v1h-1zM516 501h1v1h-1zM519 501h1v1h-1zM524 501h1v1h-1zM527 501h1v1h-1zM535 501h1v1h-1zM551 501h1v1h-1zM560 501h1v1h-1zM567 501h1v1h-1zM576 501h1v1h-1zM582 501h1v1h-1zM591 501h1v1h-1zM594 501h5v1h-5zM3 502h1v1h-1zM8 502h1v1h-1zM12 502h2v1h-2zM16 502h2v1h-2zM21 502h1v1h-1zM25 502h2v1h-2zM29 502h2v1h-2zM33 502h2v1h-2zM39 502h1v1h-1zM42 502h1v1h-1zM44 502h2v1h-2zM49 502h1v1h-1zM52 502h2v1h-2zM56 502h2v1h-2zM69 502h1v1h-1zM76 502h1v1h-1zM81 502h1v1h-1zM86 502h1v1h-1zM94 502h1v1h-1zM108 502h1v1h-1zM110 502h1v1h-1zM112 502h1v1h-1zM115 502h1v1h-1zM118 502h1v1h-1zM123 502h1v1h-1zM127 502h1v1h-1zM129 502h1v1h-1zM146 502h1v1h-1zM151 502h1v1h-1zM163 502h1v1h-1zM173 502h1v1h-1zM178 502h1v1h-1zM183 502h1v1h-1zM187 502h1v1h-1zM192 502h1v1h-1zM405 502h1v1h-1zM410 502h2v1h-2zM414 502h2v1h-2zM420 502h1v1h-1zM423 502h1v1h-1zM428 502h1v1h-1zM431 502h1v1h-1zM436 502h1v1h-1zM441 502h1v1h-1zM448 502h1v1h-1zM454 502h1v1h-1zM458 502h1v1h-1zM462 502h1v1h-1zM467 502h1v1h-1zM475 502h2v1h-2zM481 502h1v1h-1zM491 502h1v1h-1zM497 502h1v1h-1zM500 502h1v1h-1zM505 502h1v1h-1zM508 502h1v1h-1zM512 502h2v1h-2zM516 502h1v1h-1zM519 502h1v1h-1zM524 502h1v1h-1zM527 502h1v1h-1zM532 502h1v1h-1zM535 502h1v1h-1zM551 502h2v1h-2zM557 502h1v1h-1zM560 502h2v1h-2zM566 502h1v1h-1zM577 502h1v1h-1zM582 502h1v1h-1zM585 502h1v1h-1zM591 502h1v1h-1zM594 502h1v1h-1zM598 502h1v1h-1zM3 503h5v1h-5zM12 503h5v1h-5zM21 503h7v1h-7zM29 503h7v1h-7zM39 503h4v1h-4zM45 503h4v1h-4zM53 503h7v1h-7zM68 503h1v1h-1zM77 503h1v1h-1zM80 503h1v1h-1zM85 503h1v1h-1zM93 503h1v1h-1zM108 503h1v1h-1zM111 503h1v1h-1zM115 503h1v1h-1zM119 503h1v1h-1zM122 503h2v1h-2zM128 503h1v1h-1zM147 503h1v1h-1zM150 503h1v1h-1zM162 503h1v1h-1zM173 503h1v1h-1zM178 503h2v1h-2zM182 503h1v1h-1zM188 503h1v1h-1zM191 503h1v1h-1zM405 503h1v1h-1zM410 503h2v1h-2zM416 503h1v1h-1zM419 503h1v1h-1zM422 503h1v1h-1zM429 503h2v1h-2zM437 503h1v1h-1zM440 503h1v1h-1zM448 503h2v1h-2zM453 503h1v1h-1zM458 503h1v1h-1zM462 503h1v1h-1zM467 503h1v1h-1zM477 503h1v1h-1zM480 503h1v1h-1zM491 503h1v1h-1zM496 503h2v1h-2zM501 503h1v1h-1zM504 503h1v1h-1zM508 503h1v1h-1zM511 503h1v1h-1zM513 503h1v1h-1zM516 503h1v1h-1zM520 503h1v1h-1zM523 503h2v1h-2zM528 503h1v1h-1zM531 503h1v1h-1zM535 503h1v1h-1zM540 503h2v1h-2zM553 503h1v1h-1zM556 503h1v1h-1zM561 503h1v1h-1zM565 503h1v1h-1zM578 503h1v1h-1zM581 503h1v1h-1zM586 503h1v1h-1zM590 503h1v1h-1zM593 503h1v1h-1zM599 503h1v1h-1zM12 504h2v1h-2zM67 504h7v1h-7zM78 504h2v1h-2zM84 504h7v1h-7zM92 504h7v1h-7zM108 504h1v1h-1zM111 504h1v1h-1zM115 504h1v1h-1zM120 504h2v1h-2zM123 504h1v1h-1zM128 504h1v1h-1zM148 504h2v1h-2zM161 504h7v1h-7zM173 504h1v1h-1zM180 504h2v1h-2zM189 504h2v1h-2zM405 504h1v1h-1zM411 504h1v1h-1zM416 504h3v1h-3zM422 504h1v1h-1zM429 504h2v1h-2zM437 504h1v1h-1zM440 504h1v1h-1zM450 504h3v1h-3zM458 504h1v1h-1zM462 504h1v1h-1zM467 504h1v1h-1zM478 504h2v1h-2zM491 504h5v1h-5zM502 504h2v1h-2zM509 504h2v1h-2zM513 504h1v1h-1zM516 504h1v1h-1zM521 504h2v1h-2zM524 504h1v1h-1zM529 504h2v1h-2zM535 504h1v1h-1zM541 504h1v1h-1zM553 504h3v1h-3zM562 504h3v1h-3zM579 504h2v1h-2zM587 504h3v1h-3zM593 504h1v1h-1zM599 504h1v1h-1zM12 505h2v1h-2zM127 505h1v1h-1zM439 505h1v1h-1zM540 505h2v1h-2zM11 506h4v1h-4zM126 506h1v1h-1zM439 506h1v1h-1zM125 507h1v1h-1zM438 507h1v1h-1z" fill="#000"/>
</g>
<g class="t">
<text x="1" y="15" font-size="13.9" textLength="253" lengthAdjust="spacingAndGlyphs">3-hour K-indices for Last 7 days</text>
<text x="337" y="15" font-size="10.1" textLength="39" lengthAdjust="spacingAndGlyphs">Legend:</text>
<text x="403" y="15" font-size="10.1" textLength="21" lengthAdjust="spacingAndGlyphs">0-3</text>
<text x="463" y="15" font-size="10.1" textLength="6" lengthAdjust="spacingAndGlyphs">4</text>
<text x="505" y="15" font-size="10.1" textLength="15" lengthAdjust="spacingAndGlyphs">5,6</text>
<text x="565" y="15" font-size="10.1" textLength="20" lengthAdjust="spacingAndGlyphs">7-9</text>
<text x="28" y="122" font-size="8.9" textLength="5" lengthAdjust="spacingAndGlyphs">0</text>
<text x="29" y="114" font-size="8.9" textLength="2" lengthAdjust="spacingAndGlyphs">1</text>
<text x="28" y="103" font-size="8.9" textLength="5" lengthAdjust="spacingAndGlyphs">2</text>
<text x="28" y="91" font-size="8.9" textLength="5" lengthAdjust="spacingAndGlyphs">3</text>
<text x="28" y="80" font-size="8.9" textLength="5" lengthAdjust="spacingAndGlyphs">4</text>
<text x="28" y="69" font-size="8.9" textLength="5" lengthAdjust="spacingAndGlyphs">5</text>
<text x="28" y="57" font-size="8.9" textLength="5" lengthAdjust="spacingAndGlyphs">6</text>
<text x="28" y="46" font-size="8.9" textLength="5" lengthAdjust="spacingAndGlyphs">7</text>
<text x="28" y="35" font-size="8.9" textLength="5" lengthAdjust="spacingAndGlyphs">8</text>
<text x="28" y="26" font-size="8.9" textLength="5" lengthAdjust="spacingAndGlyphs">9</text>
<text x="28" y="234" font-size="8.9" textLength="5" lengthAdjust="spacingAndGlyphs">0</text>
<text x="29" y="226" font-size="8.9" textLength="2" lengthAdjust="spacingAndGlyphs">1</text>
<text x="28" y="215" font-size="8.9" textLength="5" lengthAdjust="spacingAndGlyphs">2</text>
<text x="28" y="203" font-size="8.9" textLength="5" lengthAdjust="spacingAndGlyphs">3</text>
<text x="28" y="192" font-size="8.9" textLength="5" lengthAdjust="spacingAndGlyphs">4</text>
<text x="28" y="181" font-size="8.9" textLength="5" lengthAdjust="spacingAndGlyphs">5</text>
<text x="28" y="169" font-size="8.9" textLength="5" lengthAdjust="spacingAndGlyphs">6</text>
<text x="28" y="158" font-size="8.9" textLength="5" lengthAdjust="spacingAndGlyphs">7</text>
<text x="28" y="147" font-size="8.9" textLength="5" lengthAdjust="spacingAndGlyphs">8</text>
<text x="28" y="138" font-size="8.9" textLength="5" lengthAdjust="spacingAndGlyphs">9</text>
<text x="28" y="346" font-size="8.9" textLength="5" lengthAdjust="spacingAndGlyphs">0</text>
<text x="29" y="338" font-size="8.9" textLength="2" lengthAdjust="spacingAndGlyphs">1</text>
<text x="28" y="327" font-size="8.9" textLength="5" lengthAdjust="spacingAndGlyphs">2</text>
<text x="28" y="316" font-size="8.9" textLength="5" lengthAdjust="spacingAndGlyphs">3</text>
<text x="28" y="304" font-size="8.9" textLength="5" lengthAdjust="spacingAndGlyphs">4</text>
<text x="28" y="293" font-size="8.9" textLength="5" lengthAdjust="spacingAndGlyphs">5</text>
<text x="28" y="282" font-size="8.9" textLength="5" lengthAdjust="spacingAndGlyphs">6</text>
<text x="28" y="270" font-size="8.9" textLength="5" lengthAdjust="spacingAndGlyphs">7</text>
<text x="28" y="259" font-size="8.9" textLength="5" lengthAdjust="spacingAndGlyphs">8</text>
<text x="28" y="250" font-size="8.9" textLength="5" lengthAdjust="spacingAndGlyphs">9</text>
<text x="28" y="459" font-size="8.9" textLength="5" lengthAdjust="spacingAndGlyphs">0</text>
<text x="29" y="451" font-size="8.9" textLength="2" lengthAdjust="spacingAndGlyphs">1</text>
<text x="28" y="439" font-size="8.9" textLength="5" lengthAdjust="spacingAndGlyphs">2</text>
<text x="28" y="428" font-size="8.9" textLength="5" lengthAdjust="spacingAndGlyphs">3</text>
<text x="28" y="417" font-size="8.9" textLength="5" lengthAdjust="spacingAndGlyphs">4</text>
<text x="28" y="405" font-size="8.9" textLength="5" lengthAdjust="spacingAndGlyphs">5</text>
<text x="28" y="394" font-size="8.9" textLength="5" lengthAdjust="spacingAndGlyphs">6</text>
<text x="28" y="383" font-size="8.9" textLength="5" lengthAdjust="spacingAndGlyphs">7</text>
<text x="28" y="371" font-size="8.9" textLength="5" lengthAdjust="spacingAndGlyphs">8</text>
<text x="28" y="362" font-size="8.9" textLength="5" lengthAdjust="spacingAndGlyphs">9</text>
<text transform="translate(13 96) rotate(-90)" font-size="11.4" textLength="44" lengthAdjust="spacingAndGlyphs">Boulder</text>
<text transform="translate(13 228) rotate(-90)" font-size="11.4" textLength="84" lengthAdjust="spacingAndGlyphs">Fredericksburg</text>
<text transform="translate(13 341) rotate(-90)" font-size="11.4" textLength="82" lengthAdjust="spacingAndGlyphs">Est. Planetary</text>
<text transform="translate(13 428) rotate(-90)" font-size="11.4" textLength="41" lengthAdjust="spacingAndGlyphs">College</text>
<text x="18" y="473" font-size="10.1" textLength="37" lengthAdjust="spacingAndGlyphs">May 03</text>
<text x="94" y="473" font-size="10.1" textLength="38" lengthAdjust="spacingAndGlyphs">May 04</text>
<text x="170" y="473" font-size="10.1" textLength="38" lengthAdjust="spacingAndGlyphs">May 05</text>
<text x="246" y="473" font-size="10.1" textLength="38" lengthAdjust="spacingAndGlyphs">May 06</text>
<text x="323" y="473" font-size="10.1" textLength="37" lengthAdjust="spacingAndGlyphs">May 07</text>
<text x="399" y="473" font-size="10.1" textLength="37" lengthAdjust="spacingAndGlyphs">May 08</text>
<text x="475" y="473" font-size="10.1" textLength="37" lengthAdjust="spacingAndGlyphs">May 09</text>
<text x="552" y="473" font-size="10.1" textLength="37" lengthAdjust="spacingAndGlyphs">May 10</text>
<text x="193" y="489" font-size="12.6" textLength="214" lengthAdjust="spacingAndGlyphs">Coordinate Universal Time (UTC)</text>
<text x="67" y="504" font-size="12.6" textLength="126" lengthAdjust="spacingAndGlyphs">2022 May  9 2130</text>
<text x="405" y="504" font-size="12.6" textLength="195" lengthAdjust="spacingAndGlyphs">NOAA/SWPC Boulder, CO USA</text>
<text x="1" y="504" font-size="14" textLength="59" lengthAdjust="spacingAndGlyphs" style="font-family:'Liberation Serif',serif;font-weight:bold">Updated</text>
</g>
</svg>
</body></html>
